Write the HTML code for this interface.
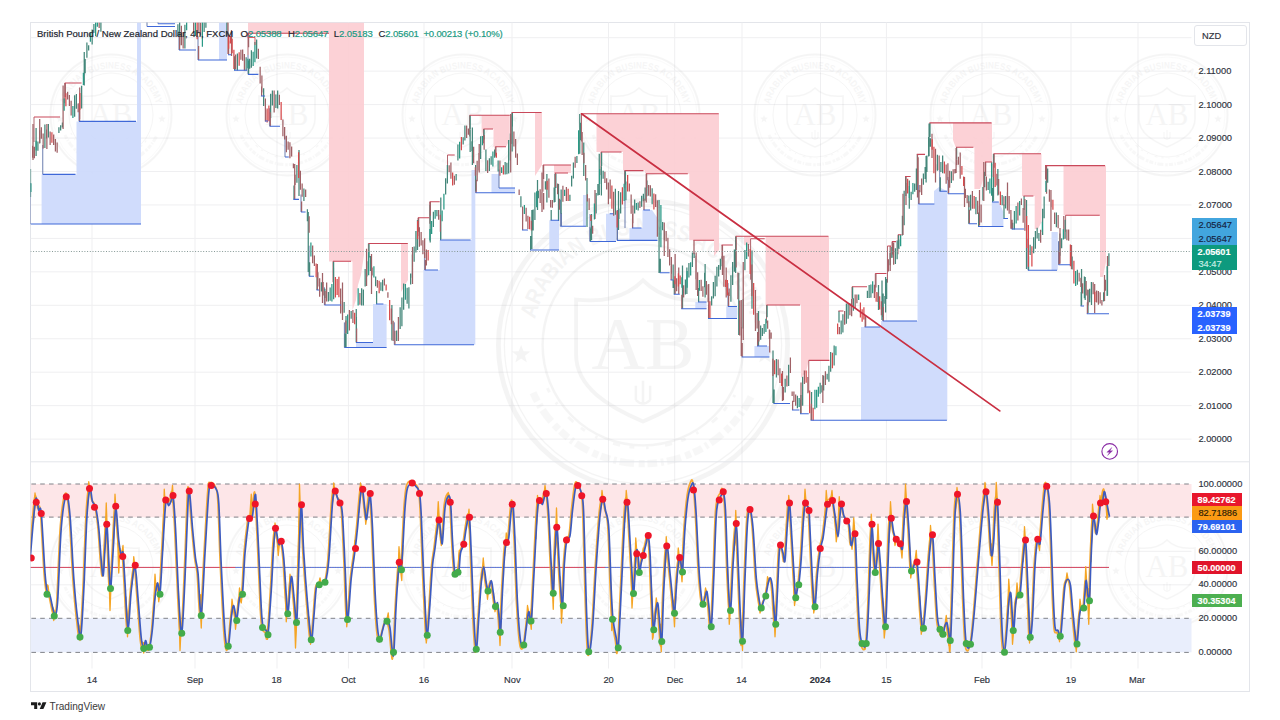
<!DOCTYPE html>
<html><head><meta charset="utf-8"><title>GBPNZD 4h chart</title>
<style>
html,body{margin:0;padding:0;background:#fff;}
body{width:1280px;height:720px;position:relative;overflow:hidden;font-family:"Liberation Sans",sans-serif;}
#frame{position:absolute;left:30px;top:22px;width:1220px;height:670px;border:1px solid #e3e5ea;box-sizing:border-box;}
#sep{position:absolute;left:30px;top:461.4px;width:1220px;height:1px;background:#e3e5ea;}
svg{position:absolute;left:0;top:0;}
.ax{position:absolute;font-size:9.3px;line-height:12px;height:12px;color:#2e323c;white-space:nowrap;letter-spacing:0;-webkit-text-stroke:0.15px currentColor;}
.tc{width:60px;text-align:center;}
.bw{color:#fff;font-weight:bold;font-size:9.1px;}
.bx{position:absolute;}
#nzd{position:absolute;left:1194.4px;top:25.1px;width:52.6px;height:21.2px;border:1px solid #e3e5ea;border-radius:3px;box-sizing:border-box;background:#fff;}
#hdr{position:absolute;left:37px;top:28.0px;font-size:9.56px;line-height:12px;color:#23262f;white-space:nowrap;-webkit-text-stroke:0.2px #23262f;}
#hdr b{font-weight:normal;color:#1a9a82;-webkit-text-stroke:0.2px #1a9a82;letter-spacing:-0.15px;}
#hdr span{display:inline-block;}
#tv{position:absolute;left:49.6px;top:700.5px;font-size:10.1px;line-height:12px;color:#3a3a3a;}
</style></head><body>
<div id="frame"></div>
<svg width="1280" height="720" viewBox="0 0 1280 720">
<defs><clipPath id="cp"><rect x="30.5" y="22.5" width="1219" height="669"/></clipPath></defs>
<g clip-path="url(#cp)">
<path d="M92 22.2V668.5M195 22.2V668.5M277 22.2V668.5M348.4 22.2V668.5M424 22.2V668.5M512 22.2V668.5M608.5 22.2V668.5M674.7 22.2V668.5M742 22.2V668.5M820.5 22.2V668.5M886.4 22.2V668.5M982 22.2V668.5M1071 22.2V668.5M1138 22.2V668.5M30.4 37.7H1191.5M30.4 71.15H1191.5M30.4 104.6H1191.5M30.4 138.05H1191.5M30.4 171.5H1191.5M30.4 204.95H1191.5M30.4 238.4H1191.5M30.4 271.85H1191.5M30.4 305.3H1191.5M30.4 338.75H1191.5M30.4 372.2H1191.5M30.4 405.65H1191.5M30.4 439.1H1191.5M30.4 551.3H1191.5M30.4 584.8H1191.5" stroke="#efeff1" stroke-width="1" fill="none"/>
<g transform="translate(111 115) scale(1)" opacity="0.085" fill="none" stroke="#9a9a9a"><circle r="60.5" stroke-width="2"/><circle r="42" stroke-width="1"/><circle r="58" stroke-width="0.5"/><path d="M0 -27 C -8 -19 -18 -18 -28 -19 L -28 4 C -28 18 -14 26 0 32 C 14 26 28 18 28 4 L 28 -19 C 18 -18 8 -19 0 -27Z" stroke-width="1.6"/><text x="0" y="10" font-family="Liberation Serif, serif" font-size="31" text-anchor="middle" fill="#9a9a9a" stroke="none">AB</text><path id="wa111_115" d="M -46.5 0 A 46.5 46.5 0 0 1 46.5 0" stroke="none"/><text font-family="Liberation Sans, sans-serif" font-weight="bold" font-size="9.6" fill="#9a9a9a" stroke="none"><textPath href="#wa111_115" startOffset="50%" text-anchor="middle" textLength="124" lengthAdjust="spacingAndGlyphs">ARABIAN BUSINESS ACADEMY</textPath></text><polygon points="-51,0 -50,2.62 -47.2,2.76 -49.38,4.53 -48.65,7.24 -51,5.7 -53.35,7.24 -52.62,4.53 -54.8,2.76 -52,2.62" fill="#9a9a9a" stroke="none"/><polygon points="51,0 52,2.62 54.8,2.76 52.62,4.53 53.35,7.24 51,5.7 48.65,7.24 49.38,4.53 47.2,2.76 50,2.62" fill="#9a9a9a" stroke="none"/><path d="M -46 20 A 50.5 50.5 0 0 0 46 20" stroke-width="3" stroke-dasharray="4 1.6 1.2 1.4 6 2 2.5 1.2" opacity="0.7"/><path d="M -40 18 A 44.5 44.5 0 0 0 40 18" stroke-width="1.2" stroke-dasharray="2 5 1 7 3 4" opacity="0.8"/><path d="M-3 17 l0 6 M0 15 l0 9 M3 17 l0 6 M-3 23 q3 3 6 0" stroke-width="1"/></g>
<g transform="translate(287 115) scale(1)" opacity="0.085" fill="none" stroke="#9a9a9a"><circle r="60.5" stroke-width="2"/><circle r="42" stroke-width="1"/><circle r="58" stroke-width="0.5"/><path d="M0 -27 C -8 -19 -18 -18 -28 -19 L -28 4 C -28 18 -14 26 0 32 C 14 26 28 18 28 4 L 28 -19 C 18 -18 8 -19 0 -27Z" stroke-width="1.6"/><text x="0" y="10" font-family="Liberation Serif, serif" font-size="31" text-anchor="middle" fill="#9a9a9a" stroke="none">AB</text><path id="wa287_115" d="M -46.5 0 A 46.5 46.5 0 0 1 46.5 0" stroke="none"/><text font-family="Liberation Sans, sans-serif" font-weight="bold" font-size="9.6" fill="#9a9a9a" stroke="none"><textPath href="#wa287_115" startOffset="50%" text-anchor="middle" textLength="124" lengthAdjust="spacingAndGlyphs">ARABIAN BUSINESS ACADEMY</textPath></text><polygon points="-51,0 -50,2.62 -47.2,2.76 -49.38,4.53 -48.65,7.24 -51,5.7 -53.35,7.24 -52.62,4.53 -54.8,2.76 -52,2.62" fill="#9a9a9a" stroke="none"/><polygon points="51,0 52,2.62 54.8,2.76 52.62,4.53 53.35,7.24 51,5.7 48.65,7.24 49.38,4.53 47.2,2.76 50,2.62" fill="#9a9a9a" stroke="none"/><path d="M -46 20 A 50.5 50.5 0 0 0 46 20" stroke-width="3" stroke-dasharray="4 1.6 1.2 1.4 6 2 2.5 1.2" opacity="0.7"/><path d="M -40 18 A 44.5 44.5 0 0 0 40 18" stroke-width="1.2" stroke-dasharray="2 5 1 7 3 4" opacity="0.8"/><path d="M-3 17 l0 6 M0 15 l0 9 M3 17 l0 6 M-3 23 q3 3 6 0" stroke-width="1"/></g>
<g transform="translate(463 115) scale(1)" opacity="0.085" fill="none" stroke="#9a9a9a"><circle r="60.5" stroke-width="2"/><circle r="42" stroke-width="1"/><circle r="58" stroke-width="0.5"/><path d="M0 -27 C -8 -19 -18 -18 -28 -19 L -28 4 C -28 18 -14 26 0 32 C 14 26 28 18 28 4 L 28 -19 C 18 -18 8 -19 0 -27Z" stroke-width="1.6"/><text x="0" y="10" font-family="Liberation Serif, serif" font-size="31" text-anchor="middle" fill="#9a9a9a" stroke="none">AB</text><path id="wa463_115" d="M -46.5 0 A 46.5 46.5 0 0 1 46.5 0" stroke="none"/><text font-family="Liberation Sans, sans-serif" font-weight="bold" font-size="9.6" fill="#9a9a9a" stroke="none"><textPath href="#wa463_115" startOffset="50%" text-anchor="middle" textLength="124" lengthAdjust="spacingAndGlyphs">ARABIAN BUSINESS ACADEMY</textPath></text><polygon points="-51,0 -50,2.62 -47.2,2.76 -49.38,4.53 -48.65,7.24 -51,5.7 -53.35,7.24 -52.62,4.53 -54.8,2.76 -52,2.62" fill="#9a9a9a" stroke="none"/><polygon points="51,0 52,2.62 54.8,2.76 52.62,4.53 53.35,7.24 51,5.7 48.65,7.24 49.38,4.53 47.2,2.76 50,2.62" fill="#9a9a9a" stroke="none"/><path d="M -46 20 A 50.5 50.5 0 0 0 46 20" stroke-width="3" stroke-dasharray="4 1.6 1.2 1.4 6 2 2.5 1.2" opacity="0.7"/><path d="M -40 18 A 44.5 44.5 0 0 0 40 18" stroke-width="1.2" stroke-dasharray="2 5 1 7 3 4" opacity="0.8"/><path d="M-3 17 l0 6 M0 15 l0 9 M3 17 l0 6 M-3 23 q3 3 6 0" stroke-width="1"/></g>
<g transform="translate(639 115) scale(1)" opacity="0.085" fill="none" stroke="#9a9a9a"><circle r="60.5" stroke-width="2"/><circle r="42" stroke-width="1"/><circle r="58" stroke-width="0.5"/><path d="M0 -27 C -8 -19 -18 -18 -28 -19 L -28 4 C -28 18 -14 26 0 32 C 14 26 28 18 28 4 L 28 -19 C 18 -18 8 -19 0 -27Z" stroke-width="1.6"/><text x="0" y="10" font-family="Liberation Serif, serif" font-size="31" text-anchor="middle" fill="#9a9a9a" stroke="none">AB</text><path id="wa639_115" d="M -46.5 0 A 46.5 46.5 0 0 1 46.5 0" stroke="none"/><text font-family="Liberation Sans, sans-serif" font-weight="bold" font-size="9.6" fill="#9a9a9a" stroke="none"><textPath href="#wa639_115" startOffset="50%" text-anchor="middle" textLength="124" lengthAdjust="spacingAndGlyphs">ARABIAN BUSINESS ACADEMY</textPath></text><polygon points="-51,0 -50,2.62 -47.2,2.76 -49.38,4.53 -48.65,7.24 -51,5.7 -53.35,7.24 -52.62,4.53 -54.8,2.76 -52,2.62" fill="#9a9a9a" stroke="none"/><polygon points="51,0 52,2.62 54.8,2.76 52.62,4.53 53.35,7.24 51,5.7 48.65,7.24 49.38,4.53 47.2,2.76 50,2.62" fill="#9a9a9a" stroke="none"/><path d="M -46 20 A 50.5 50.5 0 0 0 46 20" stroke-width="3" stroke-dasharray="4 1.6 1.2 1.4 6 2 2.5 1.2" opacity="0.7"/><path d="M -40 18 A 44.5 44.5 0 0 0 40 18" stroke-width="1.2" stroke-dasharray="2 5 1 7 3 4" opacity="0.8"/><path d="M-3 17 l0 6 M0 15 l0 9 M3 17 l0 6 M-3 23 q3 3 6 0" stroke-width="1"/></g>
<g transform="translate(815 115) scale(1)" opacity="0.085" fill="none" stroke="#9a9a9a"><circle r="60.5" stroke-width="2"/><circle r="42" stroke-width="1"/><circle r="58" stroke-width="0.5"/><path d="M0 -27 C -8 -19 -18 -18 -28 -19 L -28 4 C -28 18 -14 26 0 32 C 14 26 28 18 28 4 L 28 -19 C 18 -18 8 -19 0 -27Z" stroke-width="1.6"/><text x="0" y="10" font-family="Liberation Serif, serif" font-size="31" text-anchor="middle" fill="#9a9a9a" stroke="none">AB</text><path id="wa815_115" d="M -46.5 0 A 46.5 46.5 0 0 1 46.5 0" stroke="none"/><text font-family="Liberation Sans, sans-serif" font-weight="bold" font-size="9.6" fill="#9a9a9a" stroke="none"><textPath href="#wa815_115" startOffset="50%" text-anchor="middle" textLength="124" lengthAdjust="spacingAndGlyphs">ARABIAN BUSINESS ACADEMY</textPath></text><polygon points="-51,0 -50,2.62 -47.2,2.76 -49.38,4.53 -48.65,7.24 -51,5.7 -53.35,7.24 -52.62,4.53 -54.8,2.76 -52,2.62" fill="#9a9a9a" stroke="none"/><polygon points="51,0 52,2.62 54.8,2.76 52.62,4.53 53.35,7.24 51,5.7 48.65,7.24 49.38,4.53 47.2,2.76 50,2.62" fill="#9a9a9a" stroke="none"/><path d="M -46 20 A 50.5 50.5 0 0 0 46 20" stroke-width="3" stroke-dasharray="4 1.6 1.2 1.4 6 2 2.5 1.2" opacity="0.7"/><path d="M -40 18 A 44.5 44.5 0 0 0 40 18" stroke-width="1.2" stroke-dasharray="2 5 1 7 3 4" opacity="0.8"/><path d="M-3 17 l0 6 M0 15 l0 9 M3 17 l0 6 M-3 23 q3 3 6 0" stroke-width="1"/></g>
<g transform="translate(991 115) scale(1)" opacity="0.085" fill="none" stroke="#9a9a9a"><circle r="60.5" stroke-width="2"/><circle r="42" stroke-width="1"/><circle r="58" stroke-width="0.5"/><path d="M0 -27 C -8 -19 -18 -18 -28 -19 L -28 4 C -28 18 -14 26 0 32 C 14 26 28 18 28 4 L 28 -19 C 18 -18 8 -19 0 -27Z" stroke-width="1.6"/><text x="0" y="10" font-family="Liberation Serif, serif" font-size="31" text-anchor="middle" fill="#9a9a9a" stroke="none">AB</text><path id="wa991_115" d="M -46.5 0 A 46.5 46.5 0 0 1 46.5 0" stroke="none"/><text font-family="Liberation Sans, sans-serif" font-weight="bold" font-size="9.6" fill="#9a9a9a" stroke="none"><textPath href="#wa991_115" startOffset="50%" text-anchor="middle" textLength="124" lengthAdjust="spacingAndGlyphs">ARABIAN BUSINESS ACADEMY</textPath></text><polygon points="-51,0 -50,2.62 -47.2,2.76 -49.38,4.53 -48.65,7.24 -51,5.7 -53.35,7.24 -52.62,4.53 -54.8,2.76 -52,2.62" fill="#9a9a9a" stroke="none"/><polygon points="51,0 52,2.62 54.8,2.76 52.62,4.53 53.35,7.24 51,5.7 48.65,7.24 49.38,4.53 47.2,2.76 50,2.62" fill="#9a9a9a" stroke="none"/><path d="M -46 20 A 50.5 50.5 0 0 0 46 20" stroke-width="3" stroke-dasharray="4 1.6 1.2 1.4 6 2 2.5 1.2" opacity="0.7"/><path d="M -40 18 A 44.5 44.5 0 0 0 40 18" stroke-width="1.2" stroke-dasharray="2 5 1 7 3 4" opacity="0.8"/><path d="M-3 17 l0 6 M0 15 l0 9 M3 17 l0 6 M-3 23 q3 3 6 0" stroke-width="1"/></g>
<g transform="translate(1167 115) scale(1)" opacity="0.085" fill="none" stroke="#9a9a9a"><circle r="60.5" stroke-width="2"/><circle r="42" stroke-width="1"/><circle r="58" stroke-width="0.5"/><path d="M0 -27 C -8 -19 -18 -18 -28 -19 L -28 4 C -28 18 -14 26 0 32 C 14 26 28 18 28 4 L 28 -19 C 18 -18 8 -19 0 -27Z" stroke-width="1.6"/><text x="0" y="10" font-family="Liberation Serif, serif" font-size="31" text-anchor="middle" fill="#9a9a9a" stroke="none">AB</text><path id="wa1167_115" d="M -46.5 0 A 46.5 46.5 0 0 1 46.5 0" stroke="none"/><text font-family="Liberation Sans, sans-serif" font-weight="bold" font-size="9.6" fill="#9a9a9a" stroke="none"><textPath href="#wa1167_115" startOffset="50%" text-anchor="middle" textLength="124" lengthAdjust="spacingAndGlyphs">ARABIAN BUSINESS ACADEMY</textPath></text><polygon points="-51,0 -50,2.62 -47.2,2.76 -49.38,4.53 -48.65,7.24 -51,5.7 -53.35,7.24 -52.62,4.53 -54.8,2.76 -52,2.62" fill="#9a9a9a" stroke="none"/><polygon points="51,0 52,2.62 54.8,2.76 52.62,4.53 53.35,7.24 51,5.7 48.65,7.24 49.38,4.53 47.2,2.76 50,2.62" fill="#9a9a9a" stroke="none"/><path d="M -46 20 A 50.5 50.5 0 0 0 46 20" stroke-width="3" stroke-dasharray="4 1.6 1.2 1.4 6 2 2.5 1.2" opacity="0.7"/><path d="M -40 18 A 44.5 44.5 0 0 0 40 18" stroke-width="1.2" stroke-dasharray="2 5 1 7 3 4" opacity="0.8"/><path d="M-3 17 l0 6 M0 15 l0 9 M3 17 l0 6 M-3 23 q3 3 6 0" stroke-width="1"/></g>
<g transform="translate(111 567) scale(1)" opacity="0.085" fill="none" stroke="#9a9a9a"><circle r="60.5" stroke-width="2"/><circle r="42" stroke-width="1"/><circle r="58" stroke-width="0.5"/><path d="M0 -27 C -8 -19 -18 -18 -28 -19 L -28 4 C -28 18 -14 26 0 32 C 14 26 28 18 28 4 L 28 -19 C 18 -18 8 -19 0 -27Z" stroke-width="1.6"/><text x="0" y="10" font-family="Liberation Serif, serif" font-size="31" text-anchor="middle" fill="#9a9a9a" stroke="none">AB</text><path id="wa111_567" d="M -46.5 0 A 46.5 46.5 0 0 1 46.5 0" stroke="none"/><text font-family="Liberation Sans, sans-serif" font-weight="bold" font-size="9.6" fill="#9a9a9a" stroke="none"><textPath href="#wa111_567" startOffset="50%" text-anchor="middle" textLength="124" lengthAdjust="spacingAndGlyphs">ARABIAN BUSINESS ACADEMY</textPath></text><polygon points="-51,0 -50,2.62 -47.2,2.76 -49.38,4.53 -48.65,7.24 -51,5.7 -53.35,7.24 -52.62,4.53 -54.8,2.76 -52,2.62" fill="#9a9a9a" stroke="none"/><polygon points="51,0 52,2.62 54.8,2.76 52.62,4.53 53.35,7.24 51,5.7 48.65,7.24 49.38,4.53 47.2,2.76 50,2.62" fill="#9a9a9a" stroke="none"/><path d="M -46 20 A 50.5 50.5 0 0 0 46 20" stroke-width="3" stroke-dasharray="4 1.6 1.2 1.4 6 2 2.5 1.2" opacity="0.7"/><path d="M -40 18 A 44.5 44.5 0 0 0 40 18" stroke-width="1.2" stroke-dasharray="2 5 1 7 3 4" opacity="0.8"/><path d="M-3 17 l0 6 M0 15 l0 9 M3 17 l0 6 M-3 23 q3 3 6 0" stroke-width="1"/></g>
<g transform="translate(287 567) scale(1)" opacity="0.085" fill="none" stroke="#9a9a9a"><circle r="60.5" stroke-width="2"/><circle r="42" stroke-width="1"/><circle r="58" stroke-width="0.5"/><path d="M0 -27 C -8 -19 -18 -18 -28 -19 L -28 4 C -28 18 -14 26 0 32 C 14 26 28 18 28 4 L 28 -19 C 18 -18 8 -19 0 -27Z" stroke-width="1.6"/><text x="0" y="10" font-family="Liberation Serif, serif" font-size="31" text-anchor="middle" fill="#9a9a9a" stroke="none">AB</text><path id="wa287_567" d="M -46.5 0 A 46.5 46.5 0 0 1 46.5 0" stroke="none"/><text font-family="Liberation Sans, sans-serif" font-weight="bold" font-size="9.6" fill="#9a9a9a" stroke="none"><textPath href="#wa287_567" startOffset="50%" text-anchor="middle" textLength="124" lengthAdjust="spacingAndGlyphs">ARABIAN BUSINESS ACADEMY</textPath></text><polygon points="-51,0 -50,2.62 -47.2,2.76 -49.38,4.53 -48.65,7.24 -51,5.7 -53.35,7.24 -52.62,4.53 -54.8,2.76 -52,2.62" fill="#9a9a9a" stroke="none"/><polygon points="51,0 52,2.62 54.8,2.76 52.62,4.53 53.35,7.24 51,5.7 48.65,7.24 49.38,4.53 47.2,2.76 50,2.62" fill="#9a9a9a" stroke="none"/><path d="M -46 20 A 50.5 50.5 0 0 0 46 20" stroke-width="3" stroke-dasharray="4 1.6 1.2 1.4 6 2 2.5 1.2" opacity="0.7"/><path d="M -40 18 A 44.5 44.5 0 0 0 40 18" stroke-width="1.2" stroke-dasharray="2 5 1 7 3 4" opacity="0.8"/><path d="M-3 17 l0 6 M0 15 l0 9 M3 17 l0 6 M-3 23 q3 3 6 0" stroke-width="1"/></g>
<g transform="translate(463 567) scale(1)" opacity="0.085" fill="none" stroke="#9a9a9a"><circle r="60.5" stroke-width="2"/><circle r="42" stroke-width="1"/><circle r="58" stroke-width="0.5"/><path d="M0 -27 C -8 -19 -18 -18 -28 -19 L -28 4 C -28 18 -14 26 0 32 C 14 26 28 18 28 4 L 28 -19 C 18 -18 8 -19 0 -27Z" stroke-width="1.6"/><text x="0" y="10" font-family="Liberation Serif, serif" font-size="31" text-anchor="middle" fill="#9a9a9a" stroke="none">AB</text><path id="wa463_567" d="M -46.5 0 A 46.5 46.5 0 0 1 46.5 0" stroke="none"/><text font-family="Liberation Sans, sans-serif" font-weight="bold" font-size="9.6" fill="#9a9a9a" stroke="none"><textPath href="#wa463_567" startOffset="50%" text-anchor="middle" textLength="124" lengthAdjust="spacingAndGlyphs">ARABIAN BUSINESS ACADEMY</textPath></text><polygon points="-51,0 -50,2.62 -47.2,2.76 -49.38,4.53 -48.65,7.24 -51,5.7 -53.35,7.24 -52.62,4.53 -54.8,2.76 -52,2.62" fill="#9a9a9a" stroke="none"/><polygon points="51,0 52,2.62 54.8,2.76 52.62,4.53 53.35,7.24 51,5.7 48.65,7.24 49.38,4.53 47.2,2.76 50,2.62" fill="#9a9a9a" stroke="none"/><path d="M -46 20 A 50.5 50.5 0 0 0 46 20" stroke-width="3" stroke-dasharray="4 1.6 1.2 1.4 6 2 2.5 1.2" opacity="0.7"/><path d="M -40 18 A 44.5 44.5 0 0 0 40 18" stroke-width="1.2" stroke-dasharray="2 5 1 7 3 4" opacity="0.8"/><path d="M-3 17 l0 6 M0 15 l0 9 M3 17 l0 6 M-3 23 q3 3 6 0" stroke-width="1"/></g>
<g transform="translate(639 567) scale(1)" opacity="0.085" fill="none" stroke="#9a9a9a"><circle r="60.5" stroke-width="2"/><circle r="42" stroke-width="1"/><circle r="58" stroke-width="0.5"/><path d="M0 -27 C -8 -19 -18 -18 -28 -19 L -28 4 C -28 18 -14 26 0 32 C 14 26 28 18 28 4 L 28 -19 C 18 -18 8 -19 0 -27Z" stroke-width="1.6"/><text x="0" y="10" font-family="Liberation Serif, serif" font-size="31" text-anchor="middle" fill="#9a9a9a" stroke="none">AB</text><path id="wa639_567" d="M -46.5 0 A 46.5 46.5 0 0 1 46.5 0" stroke="none"/><text font-family="Liberation Sans, sans-serif" font-weight="bold" font-size="9.6" fill="#9a9a9a" stroke="none"><textPath href="#wa639_567" startOffset="50%" text-anchor="middle" textLength="124" lengthAdjust="spacingAndGlyphs">ARABIAN BUSINESS ACADEMY</textPath></text><polygon points="-51,0 -50,2.62 -47.2,2.76 -49.38,4.53 -48.65,7.24 -51,5.7 -53.35,7.24 -52.62,4.53 -54.8,2.76 -52,2.62" fill="#9a9a9a" stroke="none"/><polygon points="51,0 52,2.62 54.8,2.76 52.62,4.53 53.35,7.24 51,5.7 48.65,7.24 49.38,4.53 47.2,2.76 50,2.62" fill="#9a9a9a" stroke="none"/><path d="M -46 20 A 50.5 50.5 0 0 0 46 20" stroke-width="3" stroke-dasharray="4 1.6 1.2 1.4 6 2 2.5 1.2" opacity="0.7"/><path d="M -40 18 A 44.5 44.5 0 0 0 40 18" stroke-width="1.2" stroke-dasharray="2 5 1 7 3 4" opacity="0.8"/><path d="M-3 17 l0 6 M0 15 l0 9 M3 17 l0 6 M-3 23 q3 3 6 0" stroke-width="1"/></g>
<g transform="translate(815 567) scale(1)" opacity="0.085" fill="none" stroke="#9a9a9a"><circle r="60.5" stroke-width="2"/><circle r="42" stroke-width="1"/><circle r="58" stroke-width="0.5"/><path d="M0 -27 C -8 -19 -18 -18 -28 -19 L -28 4 C -28 18 -14 26 0 32 C 14 26 28 18 28 4 L 28 -19 C 18 -18 8 -19 0 -27Z" stroke-width="1.6"/><text x="0" y="10" font-family="Liberation Serif, serif" font-size="31" text-anchor="middle" fill="#9a9a9a" stroke="none">AB</text><path id="wa815_567" d="M -46.5 0 A 46.5 46.5 0 0 1 46.5 0" stroke="none"/><text font-family="Liberation Sans, sans-serif" font-weight="bold" font-size="9.6" fill="#9a9a9a" stroke="none"><textPath href="#wa815_567" startOffset="50%" text-anchor="middle" textLength="124" lengthAdjust="spacingAndGlyphs">ARABIAN BUSINESS ACADEMY</textPath></text><polygon points="-51,0 -50,2.62 -47.2,2.76 -49.38,4.53 -48.65,7.24 -51,5.7 -53.35,7.24 -52.62,4.53 -54.8,2.76 -52,2.62" fill="#9a9a9a" stroke="none"/><polygon points="51,0 52,2.62 54.8,2.76 52.62,4.53 53.35,7.24 51,5.7 48.65,7.24 49.38,4.53 47.2,2.76 50,2.62" fill="#9a9a9a" stroke="none"/><path d="M -46 20 A 50.5 50.5 0 0 0 46 20" stroke-width="3" stroke-dasharray="4 1.6 1.2 1.4 6 2 2.5 1.2" opacity="0.7"/><path d="M -40 18 A 44.5 44.5 0 0 0 40 18" stroke-width="1.2" stroke-dasharray="2 5 1 7 3 4" opacity="0.8"/><path d="M-3 17 l0 6 M0 15 l0 9 M3 17 l0 6 M-3 23 q3 3 6 0" stroke-width="1"/></g>
<g transform="translate(991 567) scale(1)" opacity="0.085" fill="none" stroke="#9a9a9a"><circle r="60.5" stroke-width="2"/><circle r="42" stroke-width="1"/><circle r="58" stroke-width="0.5"/><path d="M0 -27 C -8 -19 -18 -18 -28 -19 L -28 4 C -28 18 -14 26 0 32 C 14 26 28 18 28 4 L 28 -19 C 18 -18 8 -19 0 -27Z" stroke-width="1.6"/><text x="0" y="10" font-family="Liberation Serif, serif" font-size="31" text-anchor="middle" fill="#9a9a9a" stroke="none">AB</text><path id="wa991_567" d="M -46.5 0 A 46.5 46.5 0 0 1 46.5 0" stroke="none"/><text font-family="Liberation Sans, sans-serif" font-weight="bold" font-size="9.6" fill="#9a9a9a" stroke="none"><textPath href="#wa991_567" startOffset="50%" text-anchor="middle" textLength="124" lengthAdjust="spacingAndGlyphs">ARABIAN BUSINESS ACADEMY</textPath></text><polygon points="-51,0 -50,2.62 -47.2,2.76 -49.38,4.53 -48.65,7.24 -51,5.7 -53.35,7.24 -52.62,4.53 -54.8,2.76 -52,2.62" fill="#9a9a9a" stroke="none"/><polygon points="51,0 52,2.62 54.8,2.76 52.62,4.53 53.35,7.24 51,5.7 48.65,7.24 49.38,4.53 47.2,2.76 50,2.62" fill="#9a9a9a" stroke="none"/><path d="M -46 20 A 50.5 50.5 0 0 0 46 20" stroke-width="3" stroke-dasharray="4 1.6 1.2 1.4 6 2 2.5 1.2" opacity="0.7"/><path d="M -40 18 A 44.5 44.5 0 0 0 40 18" stroke-width="1.2" stroke-dasharray="2 5 1 7 3 4" opacity="0.8"/><path d="M-3 17 l0 6 M0 15 l0 9 M3 17 l0 6 M-3 23 q3 3 6 0" stroke-width="1"/></g>
<g transform="translate(1167 567) scale(1)" opacity="0.085" fill="none" stroke="#9a9a9a"><circle r="60.5" stroke-width="2"/><circle r="42" stroke-width="1"/><circle r="58" stroke-width="0.5"/><path d="M0 -27 C -8 -19 -18 -18 -28 -19 L -28 4 C -28 18 -14 26 0 32 C 14 26 28 18 28 4 L 28 -19 C 18 -18 8 -19 0 -27Z" stroke-width="1.6"/><text x="0" y="10" font-family="Liberation Serif, serif" font-size="31" text-anchor="middle" fill="#9a9a9a" stroke="none">AB</text><path id="wa1167_567" d="M -46.5 0 A 46.5 46.5 0 0 1 46.5 0" stroke="none"/><text font-family="Liberation Sans, sans-serif" font-weight="bold" font-size="9.6" fill="#9a9a9a" stroke="none"><textPath href="#wa1167_567" startOffset="50%" text-anchor="middle" textLength="124" lengthAdjust="spacingAndGlyphs">ARABIAN BUSINESS ACADEMY</textPath></text><polygon points="-51,0 -50,2.62 -47.2,2.76 -49.38,4.53 -48.65,7.24 -51,5.7 -53.35,7.24 -52.62,4.53 -54.8,2.76 -52,2.62" fill="#9a9a9a" stroke="none"/><polygon points="51,0 52,2.62 54.8,2.76 52.62,4.53 53.35,7.24 51,5.7 48.65,7.24 49.38,4.53 47.2,2.76 50,2.62" fill="#9a9a9a" stroke="none"/><path d="M -46 20 A 50.5 50.5 0 0 0 46 20" stroke-width="3" stroke-dasharray="4 1.6 1.2 1.4 6 2 2.5 1.2" opacity="0.7"/><path d="M -40 18 A 44.5 44.5 0 0 0 40 18" stroke-width="1.2" stroke-dasharray="2 5 1 7 3 4" opacity="0.8"/><path d="M-3 17 l0 6 M0 15 l0 9 M3 17 l0 6 M-3 23 q3 3 6 0" stroke-width="1"/></g>
<g transform="translate(643 345) scale(2.39)" opacity="0.1" fill="none" stroke="#9a9a9a"><circle r="60.5" stroke-width="2"/><circle r="42" stroke-width="1"/><circle r="58" stroke-width="0.5"/><path d="M0 -27 C -8 -19 -18 -18 -28 -19 L -28 4 C -28 18 -14 26 0 32 C 14 26 28 18 28 4 L 28 -19 C 18 -18 8 -19 0 -27Z" stroke-width="1.6"/><text x="0" y="10" font-family="Liberation Serif, serif" font-size="31" text-anchor="middle" fill="#9a9a9a" stroke="none">AB</text><path id="wa643_345" d="M -46.5 0 A 46.5 46.5 0 0 1 46.5 0" stroke="none"/><text font-family="Liberation Sans, sans-serif" font-weight="bold" font-size="9.6" fill="#9a9a9a" stroke="none"><textPath href="#wa643_345" startOffset="50%" text-anchor="middle" textLength="124" lengthAdjust="spacingAndGlyphs">ARABIAN BUSINESS ACADEMY</textPath></text><polygon points="-51,0 -50,2.62 -47.2,2.76 -49.38,4.53 -48.65,7.24 -51,5.7 -53.35,7.24 -52.62,4.53 -54.8,2.76 -52,2.62" fill="#9a9a9a" stroke="none"/><polygon points="51,0 52,2.62 54.8,2.76 52.62,4.53 53.35,7.24 51,5.7 48.65,7.24 49.38,4.53 47.2,2.76 50,2.62" fill="#9a9a9a" stroke="none"/><path d="M -46 20 A 50.5 50.5 0 0 0 46 20" stroke-width="3" stroke-dasharray="4 1.6 1.2 1.4 6 2 2.5 1.2" opacity="0.7"/><path d="M -40 18 A 44.5 44.5 0 0 0 40 18" stroke-width="1.2" stroke-dasharray="2 5 1 7 3 4" opacity="0.8"/><path d="M-3 17 l0 6 M0 15 l0 9 M3 17 l0 6 M-3 23 q3 3 6 0" stroke-width="1"/></g>
<rect x="30.4" y="484" width="1161.1" height="33.3" fill="#fde6e8"/>
<rect x="30.4" y="618.3" width="1161.1" height="34" fill="#e9eefc"/>
<polygon points="41.6,224 41.6,174.4 76.5,174.4 76.5,121.4 137,121.4 137,22.5 141,22.5 141,224" fill="#cddafc" fill-opacity="0.94"/>
<polygon points="219,22.5 227,22.5 227,60 219,60" fill="#cddafc" fill-opacity="0.94"/>
<polygon points="356,347.5 356,342.5 373,342.5 373,304 386.6,304 386.6,347.5" fill="#cddafc" fill-opacity="0.94"/>
<polygon points="423.4,344.75 423.4,270 439.7,270 439.7,240 471.5,240 471.5,170 475.3,170 475.3,344.75" fill="#cddafc" fill-opacity="0.94"/>
<polygon points="491.5,192.75 491.5,174 499,174 499,188 515,188 515,192.75" fill="#cddafc" fill-opacity="0.94"/>
<polygon points="549.3,250 549.3,220.3 559,220.3 559,250" fill="#cddafc" fill-opacity="0.94"/>
<polygon points="583,195 586.25,195 586.25,226.3 583,226.3" fill="#cddafc" fill-opacity="0.94"/>
<polygon points="606,241.5 606,213.75 616,213.75 616,241.5" fill="#cddafc" fill-opacity="0.94"/>
<polygon points="629.4,240.4 629.4,228 642.5,228 642.5,210 652,210 657.5,218 657.5,240.4" fill="#cddafc" fill-opacity="0.94"/>
<polygon points="695.3,308.75 695.3,302 706.5,302 706.5,308.75" fill="#cddafc" fill-opacity="0.94"/>
<polygon points="726.25,318.5 726.25,306.5 737,306.5 737,318.5" fill="#cddafc" fill-opacity="0.94"/>
<polygon points="754.4,357 754.4,346 769.4,346 769.4,357" fill="#cddafc" fill-opacity="0.94"/>
<polygon points="861,420.2 861,327 881,327 881,321 917.5,321 917.5,204 934,204 934,191 939,187 947.3,191.3 947.3,420.2" fill="#cddafc" fill-opacity="0.94"/>
<polygon points="991.8,226.5 991.8,202 999,202 1003.4,212 1003.4,226.5" fill="#cddafc" fill-opacity="0.94"/>
<polygon points="1051.5,270.3 1051.5,232 1057.75,232 1057.75,270.3" fill="#cddafc" fill-opacity="0.94"/>
<polygon points="248,22.5 364,22.5 364,255 361,275 358,285 356,300 352.5,310 352.5,261.5 329,261.5 329,33.6 248,33.6" fill="#fccdd3" fill-opacity="0.92"/>
<polygon points="401,243.5 408,243.5 408,280 401,292" fill="#fccdd3" fill-opacity="0.92"/>
<polygon points="481.6,115.3 509.75,115.3 509.75,140 506,146.8 493.5,146.8 493.5,129 483.5,129 481.6,138" fill="#fccdd3" fill-opacity="0.92"/>
<polygon points="535,112.5 542,112.5 542,165 535,176" fill="#fccdd3" fill-opacity="0.92"/>
<polygon points="554,165 571,165 571,173 554,173" fill="#fccdd3" fill-opacity="0.92"/>
<polygon points="596.5,113.8 719,113.8 719,250 714,256 714,240.3 689.3,240.3 689.3,173.8 645,173.8 645,170.6 623,170.6 623,152 596.5,152" fill="#fccdd3" fill-opacity="0.92"/>
<polygon points="765.6,236.2 829,236.2 829,360.4 808.75,360.4 806,372 801,378 801,305 765.6,305" fill="#fccdd3" fill-opacity="0.92"/>
<polygon points="744,236.2 750.6,236.2 750.6,245 744,245" fill="#fccdd3" fill-opacity="0.92"/>
<polygon points="953,122.9 992,122.9 992,162 984.7,162 984.7,175 980,189 974.4,189 974.4,147.25 955.6,147.25 953,140" fill="#fccdd3" fill-opacity="0.92"/>
<polygon points="1022,153.8 1041.5,153.8 1041.5,222 1038,229 1034.7,229 1034.7,196 1022,196" fill="#fccdd3" fill-opacity="0.92"/>
<polygon points="1063.5,165.6 1106,165.6 1106,262 1103,277 1100,277 1100,215.2 1063.5,215.2" fill="#fccdd3" fill-opacity="0.92"/>
<path d="M30.4 224V183M42.75 174.4V145M79 121.4V103.25M147 26.5V-10M158 23.7V-10M179 50V31M198 60V35.75M248 74.4V55M269.7 126.3V108.26M285 157V136.48M301 212V194.5M309 276.3V245.69M324.4 305V287.3M344.4 347.5V322.42M394.3 344.75V322.34M424.7 270V253.12M475.6 192.75V178M499 188V169.5M560.4 226.3V199.65M590 241.5V227M617 240.4V210.5M728 306.5V283.1M882.8 321V299.56M918.4 204V184.32M939.7 191.3V170M948 193.75V177M1028 270.3V238.77M1058.5 264.7V241.2M625 170.6V228M617.5 210V240.4M590 214V241.5M561.5 213V226" stroke="#5b6fa6" stroke-width="1" fill="none" opacity="0.9"/>
<path d="M34 117V142M64.7 83V103.2M248 33.2V55M333 261.3V282.21M368.4 243.5V268.62M418 217.75V236.13M429.75 201.8V223.75M447.5 155V175.8M469.6 115.3V136.49M483.5 129V143.38M495.3 146.8V156.5M511.8 112.5V143.91M543 165V191.65M581.5 113.8V141.49M601 152V175.07M624.7 170.6V188.25M750.6 238.8V279.68M766.5 305V323.3M808.75 360.4V392.32M852 286.8V306.88M875.3 273.5V291.88M887.5 246V282.67M892 241.6V257.23M898 234.7V254.25M1065.6 215.2V231.77" stroke="#a8565f" stroke-width="1" fill="none" opacity="0.9"/>
<path d="M37.9 141.44V150.72M39.65 130.36V143.5M44.9 124.5V148.12M48.4 124.04V137.38M58.9 127.3V133.1M60.65 125.37V130.5M62.4 122.58V127.47M74.65 95.25V116.77M76.4 93.93V108.75M81.65 85.84V108.44M85.15 59.08V73.33M86.9 42.54V57.66M88.65 45.37V50.56M92.15 29.6V44.5M93.9 24.08V33.08M100.9 22.2V31.65M177.9 24.31V35.72M179.65 22.2V45.13M184.9 24.65V48.5M204.15 22.2V31.99M205.9 22.2V27.85M226.9 22.2V36.09M237.4 53.51V70.5M246.15 57.15V70.5M249.65 58.63V68.63M251.4 50.21V67.76M256.65 39.5V58.46M263.65 88.15V106.02M270.65 93.7V117.99M272.4 90.5V105.46M275.9 94.38V108.07M277.65 90.5V108.49M296.9 165.11V182.85M303.9 188.39V201.11M307.4 209.3V221.21M321.4 282.35V291.42M324.9 288.72V298.05M328.4 291.94V301.5M330.15 287.41V300.72M333.65 267.78V299.34M344.15 301.92V312.87M351.15 311.09V318.66M356.4 316.88V331.3M361.65 288.26V305.5M363.4 289.41V305.5M365.15 269.12V286.5M366.9 261.21V276.58M370.4 256.11V270.93M375.65 276.5V286.27M380.9 282.13V290.81M382.65 279.72V291.17M396.65 330.38V341.1M400.15 307.2V329.07M401.9 297.49V326.25M403.65 283.5V309.71M407.15 287.73V303.66M408.9 287.32V308.45M410.65 273.62V284.5M412.4 254.58V277.78M414.15 246.5V261.86M415.9 230.92V252.6M433.4 211.68V226.88M436.9 210.1V216.37M445.65 178.19V194.55M447.4 165.1V183.55M456.15 173.88V180.39M457.9 144.57V160.5M463.15 137.18V144.42M464.9 125.59V140.55M470.15 129.47V152M471.9 141.34V151.13M480.65 136.35V158.88M485.9 149.5V171.02M489.4 158.22V171.06M491.15 156.18V164.72M494.65 149.44V157.75M498.15 160.5V171.47M505.15 161.9V174.5M506.9 162.83V174.15M508.65 140.12V173.59M510.4 133.5V160.56M512.15 114.92V151.52M520.9 196.27V207.26M533.15 209.5V230.55M534.9 192.59V219.96M538.4 190.69V198.31M545.4 181.18V189.45M554.15 187.43V202.5M555.9 173.52V188.08M561.15 189.59V213.68M569.9 194.78V200.96M571.65 175.83V186.41M573.4 162.39V178.5M576.9 156.06V162.88M580.4 122.86V140.37M596.15 193.11V213.58M597.9 183.94V195.5M601.4 166.14V195.5M603.15 170.8V178.74M615.4 188.78V214.81M618.9 208.74V219.06M620.65 192.19V213.6M625.9 181.61V200.37M634.65 199.6V213.48M638.15 202.56V210.5M641.65 195.67V206.65M643.4 193.82V201.32M645.15 187.55V200.8M646.9 180.57V196.32M652.15 188.23V204.21M659.15 227.26V241.41M662.65 222V230.35M664.4 229.7V240.31M673.15 264.58V287.98M685.4 279.6V294.5M688.9 263.04V277.42M692.4 252.42V266.93M694.15 252.67V258.07M704.65 272.81V287.25M711.65 296.22V305.5M713.4 281.88V298.48M715.15 275.7V296.2M716.9 266.72V286.5M718.65 264.92V276.56M720.4 258.69V269.87M722.15 256.17V266.18M730.9 275.17V301.65M732.65 262.04V285.04M734.4 249.41V271.86M743.15 299.25V328.54M744.9 249.88V270.3M760.65 325.55V339.74M762.4 327.88V336.1M764.15 323.89V333.73M776.4 359.12V377.43M785.15 378.64V392.5M788.65 364.73V386.09M797.4 395.81V408.27M800.9 394.91V405.88M802.65 376.75V405.84M820.15 382.69V393.78M821.9 385.13V392.48M823.65 375.86V390.51M827.15 373.72V379.46M828.9 365.76V381.66M830.65 352.08V371.76M834.15 345.57V365.45M841.15 320.56V334.25M842.9 314.28V332.58M846.4 303.5V323.73M848.15 303.25V318.87M853.4 298.28V310.64M867.4 290.71V298M869.15 284.88V298M870.9 284.44V297.71M883.15 293.52V316.94M884.9 296.04V303.7M886.65 278.92V299.11M890.15 252.98V265.28M891.9 247.08V257.9M895.4 248.26V264.02M897.15 240.5V259.2M898.9 239.51V249.11M902.4 215.72V235.5M904.15 190.74V225.18M905.9 183.08V195.99M911.15 191.65V199.93M914.65 183.53V191.63M916.4 168.57V190.1M923.4 173.46V184.64M925.15 167.09V178.94M926.9 155.5V171.88M928.65 137.04V156.5M930.4 138.15V146.63M937.4 154.76V170.78M940.9 162.11V172.07M942.65 155.5V173.16M951.4 171.15V183M970.65 194.68V210.39M975.9 196.9V214.26M982.9 186.99V200.53M984.65 171.64V187.25M988.15 181.84V189.98M1002.15 194.98V205.2M1005.65 196.05V208.6M1012.65 222.82V229.5M1014.4 210.99V229.5M1030.15 244.86V254.92M1033.65 237.31V253.35M1035.4 230.89V248.82M1037.15 227.71V238.62M1038.9 233.03V241.08M1044.15 196.42V218.13M1047.65 168.6V182.76M1056.4 212.5V227.14M1059.9 233.4V255.85M1061.65 238.29V248.16M1065.15 219.65V238.76M1072.15 256.57V269.5M1077.4 269.85V284.83M1084.4 276.5V298.16M1089.65 288.7V302.34M1091.4 282.1V298.25M1103.65 292.24V301.46M1108.9 253.25V266.1M234.6 56.25V70.25M248.6 60.4V74.4M294 185.4V199.4M309.6 262.3V276.3M317.1 277V290M345 333.5V347.5M376.6 291V304M440.6 226V240M530.6 236V250M551.2 210.1V220.3M590.6 228.5V241.5M660.3 258.75V272.75M674.35 280.2V294.2M698.6 288V302M774.1 389.5V403.5M800.6 399.8V413.8M940.3 177.3V191.3M978.6 212.5V226.5M992.6 188V202M1004 204.5V218.5M1028.6 256.3V270.3M1081.2 292V306M333.6 261.3V275.3M369 243.5V257.5M470.2 115.3V129.3M484.1 129V139.46M512.4 112.5V126.5M601.6 152V166M625.3 170.6V184.6M767.1 305V317.3M839 311V322.38M852.6 286.8V298.68M898.6 234.7V247.95M905.6 176.5V190.5M917.4 154.4V168.4M930 122.9V136.9M956.6 147.25V159.75M1024.1 196V210M30.5 169V197M36.1 128V156M84.25 52V85.6M299 150V196M308.25 212V272M346 316V347M356.25 309V342.5M391.88 305V340.6M417.5 220V250M430.2 205V242.5M440.8 197.5V239M472.38 127.5V165M475.65 165V191M531.88 210V249M537.5 180V210M546.88 174V202.5M555 174V202M558.5 184V221M579.75 114V153.75M583.75 142.5V176M587 178V227M591.5 214V240M599.25 153.75V195M618.5 191V230M659.05 200V273M682.5 265.6V308.75M686.88 267.5V294M705.12 264V297.5M735.6 236.5V273M738.75 273V335M752 250.6V308.75M758.5 311V346M773 350.6V403M811.55 392V420M878.5 285V310M882 280.6V320M885.62 277V312.5M909.3 180.6V208.75M926.1 156V182.5M929.08 123.4V156M968.8 195.6V223.75M993.5 154V201M997.85 169V195.6M1026.5 200V269M1042.62 208.75V235M1081.55 269V305M1085.2 277V300M1088 290V313M1091.5 282.5V305" stroke="#44877a" stroke-width="1.25" fill="none"/>
<path d="M32.65 145.75V157.71M34.4 146.7V158.21M41.4 127.16V138.69M43.15 133.5V148.42M46.65 129.55V138.42M50.15 131.5V144.89M53.65 134.61V145.09M55.4 138.9V151.5M57.15 142.38V152.63M67.65 91.7V99.46M69.4 94.95V105.91M71.15 100.68V115.47M78.15 103.38V112.25M99.15 22.2V28.08M181.4 25.79V45.13M183.15 31.98V48.5M193.65 22.2V32.77M198.9 22.2V33.28M200.65 22.62V35.71M235.65 54.42V69.59M240.9 49.78V59.77M242.65 49.51V60.7M244.4 53.94V70.5M258.4 48.76V59.02M260.15 66.76V83.56M261.9 75.5V92.38M265.4 98.5V121.5M274.15 90.5V112.48M279.4 94.73V104.93M282.9 119.5V136.27M284.65 127.05V139.58M286.4 135.7V152.18M288.15 141.4V149.74M289.9 142.32V158.33M291.65 146.5V156.61M293.4 163.5V168.28M295.15 174.74V185.1M300.4 170.75V189.81M302.15 183.5V196.83M305.65 189.5V196.95M309.15 216.15V232.84M312.65 245.42V263.13M314.4 255.45V266.1M317.9 272.17V286.55M319.65 278.25V296.82M323.15 282.09V295.47M326.65 282.56V301.5M340.65 288.62V313.43M342.4 300.91V312.12M345.9 320.61V333.23M349.4 310.1V330.38M352.9 310.1V322.89M359.9 292.88V304.65M372.15 267.57V275.58M377.4 279.94V287.74M384.4 278.5V285.6M387.9 292.34V297.73M391.4 308.46V324.23M393.15 320.74V341.1M394.9 332.06V341.1M398.4 316.95V341.1M419.4 227.2V246.67M421.15 232.1V245.61M422.9 240.25V254.24M424.65 238.22V258.06M426.4 249.5V265.6M438.65 210.1V219.76M440.4 214.8V231.65M449.15 165.18V172.26M450.9 162.54V178.77M454.4 175.86V184.78M466.65 125.59V137.93M468.4 128.49V134.79M473.65 146.67V163.28M475.4 167.31V175.76M477.15 160.73V181.15M478.9 152.94V170.52M484.15 135.05V149.85M487.65 160.25V173M499.9 160.5V175.63M513.9 131.55V146.41M515.65 139.02V157.81M517.4 153.41V165.07M519.15 189.5V194.88M522.65 206.55V221.45M526.15 207.81V221.44M527.9 215.74V229.01M531.4 220.76V230.57M540.15 189.15V202.96M541.9 192.08V205.47M543.65 193.04V209.41M548.9 178.4V197.73M550.65 200.1V207.41M552.4 200.1V207.84M557.65 183.56V194.2M559.4 198.67V209.73M562.9 185.7V201.78M566.4 187.05V201.1M575.15 156.68V167.65M582.15 132.02V154.97M583.9 152.8V163.25M585.65 165.07V180.42M587.4 194.16V201.53M589.15 198.2V210.04M592.65 225.68V233.74M604.9 171.69V182.97M606.65 178.14V189.39M608.4 182.51V204.17M610.15 179.5V198.63M613.65 191.82V215.68M629.4 183.57V191.52M631.15 194.59V213.8M632.9 205.62V223.21M639.9 201.23V208.01M648.65 185.1V195.65M650.4 185.33V196.38M655.65 194.35V206.95M657.4 200.33V236.72M666.15 230.97V241.21M667.9 237.67V257.07M669.65 249.2V265.45M671.4 257.01V273.76M676.65 278.18V291.15M683.65 285.31V297.38M695.9 255.64V279.14M697.65 272.3V296.07M701.15 279.75V291.07M702.9 286.19V296.65M706.4 281.07V294.68M708.15 284.59V302.28M723.9 255.75V286.75M729.15 288.44V296.04M736.15 251.11V267.49M737.9 272.5V299.23M739.65 300.52V335.5M741.4 327.23V339.93M748.4 244.02V256.56M751.9 264.38V296.17M755.4 302.72V322.62M757.15 313.03V328.47M758.9 320.77V341.54M767.65 320.4V328.73M769.4 329.5V339.09M771.15 332.59V338.77M772.9 358.75V375.98M778.15 359.39V375.14M779.9 368.37V383M783.4 387V400.26M786.9 375.47V386.61M790.4 357.5V373.1M792.15 391.5V395.99M793.9 391.5V402.1M795.65 394.44V405.63M804.4 370.5V383.89M807.9 377.09V393.3M811.4 403.71V414.11M825.4 371.18V385.09M839.4 326.93V334.25M844.65 311.12V324.67M849.9 303.25V315.29M851.65 298.97V316.3M855.15 294.5V307.91M856.9 294.52V303.29M865.65 316.66V326.4M874.4 284.66V297.95M877.9 292.36V301.99M881.4 301.29V315.21M888.4 259.25V271.5M893.65 242.71V264.73M918.15 157.24V184.48M919.9 185.02V192.27M921.65 178.42V194.94M935.65 164.27V170.35M939.15 155.5V170.29M946.15 164.5V183.74M947.9 163.13V180.15M949.65 170.87V187.64M953.15 169.23V180.49M954.9 169.05V173.5M956.65 159.98V165.06M958.4 156.69V164.81M960.15 160.65V171.76M965.4 188.8V197.98M967.15 195.1V203.35M968.9 201.28V207.26M972.4 190.93V208.8M977.65 200.86V213.97M979.4 205.78V217.45M981.15 204.4V222.41M986.4 176.39V190.47M993.4 164V177.02M996.9 173.69V185.48M998.65 179V194.81M1003.9 196.25V205.54M1007.4 192.45V204.52M1009.15 196.09V213.86M1010.9 210.1V228.83M1017.9 202.5V220.54M1021.4 198.39V204.88M1023.15 207.9V222.87M1024.9 199.06V230.87M1040.65 229.63V242.66M1049.4 189.5V201.8M1051.15 199.55V207.24M1054.65 212.5V223.91M1058.15 214.99V228.35M1066.9 229.5V240.23M1068.65 229.5V240.69M1079.15 272.67V281.39M1080.9 277.63V287.04M1082.65 283.19V293.43M1086.15 280.95V295.58M1087.9 289.5V305.19M1093.15 282.3V294.22M1096.65 290.46V302.55M1098.4 291.06V304.67M1100.15 292.17V303.55M1101.9 299.97V305.5M1105.4 279.68V290.84M79.6 107.4V121.4M179.6 36V50M198.6 46V60M228.6 40.7V54.7M261.6 86.5V96M265.6 110V121M270.3 112.3V126.3M301.6 201.5V212M325 291V305M356.6 328.5V342.5M394.9 330.75V344.75M425.3 260.12V270M476.2 179.75V192.75M522.6 216V230M632.6 214V228M644 198.75V210M671.2 266V280M681.85 294.75V308.75M708.6 304.5V318.5M728.6 292.5V306.5M742.2 343V357M757.6 332V346M792.6 400.7V410M811.2 406.2V420.2M865.2 315.5V327M883.4 307V321M919 190V204M948.6 179.75V193.75M969.35 209.75V223.75M1012.1 219.8V229M1059.1 250.7V264.7M1087.4 302.3V313.8M65.3 83V97M248.6 33.2V47.2M418.6 217.75V231.7M430.35 201.8V215.8M495.9 146.8V155.3M543.6 165V179M555.35 173V187M646.6 173.8V187.8M694 240.3V254.3M722.1 245V259M736.2 236.2V250.2M875.9 273.5V287.5M892.6 241.6V254.55M985.6 162V176M994.1 153.8V167.8M1045.6 165.6V179.6M33 124V160M39.7 119V143M46.88 124V149M63.1 85.6V129M79.75 87.5V119M228 22.2V54M231.5 30V56M294.7 164V199M317.38 264V290M322.5 273V303M342.5 282.5V320M366.55 248.75V286M371.5 254V294M412.5 247V284M479.2 144V172.5M510.7 114V172.5M542 172.5V212M595 190V219M646.25 174V202.5M664.25 222.5V256M675.12 254V294M678.75 267.5V294M696.15 252.5V290M708.75 284V318M722.45 245V275M726.2 267.5V297.5M741.25 300V356M743.25 262V340M755.45 290V331M769.7 330V352.5M782.45 371V401M801 382.5V413.4M822.85 375V403M890.2 246V271M903 193.75V235M906 177V205M917.5 154V197.5M932 133.75V158M935.5 148.75V182.5M956.1 148V173M960.2 152.5V178.75M964.5 177V207M979.5 190V225.6M983.8 162V201M1007.5 182.5V210.6M1046.55 165.6V193.75M1050.95 190V231M1060 228V263.75M1063.8 216V239M1071.5 245V269M1094.67 284V313M1104.5 275V301M1107.5 256V295.6" stroke="#a06166" stroke-width="1.25" fill="none"/>
<path d="M30.9 183.36V192M36.15 140.63V150.55M64.15 98.49V110.85M72.9 106V118M83.4 72.87V85.09M90.4 32.54V41.86M95.65 22.2V36.15M97.4 22.2V26.78M186.65 22.2V30.3M195.4 22.2V35.81M202.4 22.2V46.69M247.9 58.78V68.33M253.15 51.74V65.9M254.9 42.04V62.35M310.9 242.5V256.52M331.9 284.02V301.5M347.65 314.47V333.95M358.15 288.17V305.5M368.65 251.57V275.15M373.9 266.29V277.57M405.4 283.97V299.76M429.9 229.01V240.42M431.65 221.12V234.07M435.15 210.1V218.84M442.15 210.61V221.17M443.9 193.77V209.5M459.65 141.84V158.49M482.4 136.12V145.24M492.9 151.39V166.53M501.65 167.16V173.06M524.4 204.89V213.88M536.65 191.17V207.32M564.65 189.83V196.01M578.65 130.2V154.25M594.4 203.61V219.5M599.65 169.04V183.95M624.15 183.67V200.97M636.4 202.88V209.63M660.9 204.94V247.34M681.9 277.22V287.81M687.15 270.94V287.84M690.65 262.31V275.5M699.4 279.93V290.82M746.65 242.5V259.1M765.9 318.8V331.88M799.15 397.92V407.09M814.9 389.77V409.25M816.65 389.67V407.85M818.4 386.69V396.71M835.9 346.18V355.31M858.65 294.5V299.88M872.65 281.23V293.13M900.65 234.7V246.34M909.4 186.11V198.09M912.9 183.05V194.25M989.9 178.56V193.6M991.65 162.16V195.67M1016.15 205.98V223.52M1019.65 200.88V215.58M1042.4 221.73V232.09M1045.9 180.72V192.08M1063.4 229.33V239.5M1075.65 271.11V285.97M1107.15 266.25V296.1" stroke="#2a9a86" stroke-width="1.25" fill="none"/>
<path d="M51.9 132.24V142.86M65.9 93.27V106.18M79.9 93.01V109.8M197.15 22.2V39.23M228.65 35.18V48.71M230.4 36.02V43.38M232.15 38.64V53.21M233.9 49.75V69.1M239.15 52.37V65.67M267.15 108.59V122.5M268.9 105.62V121.27M281.15 102V120.06M298.65 152.24V177.96M316.15 263.5V277.19M335.4 276.89V297.53M337.15 279.03V295.01M338.9 276.8V297.24M354.65 312.74V324.32M379.15 280.67V293.21M386.15 284.38V290.4M389.65 299.95V320.21M417.65 220.69V239.2M428.15 250.01V260.43M452.65 172.39V185.58M461.4 137V150.35M496.4 152.7V157.74M503.4 165.25V174.5M529.65 216.68V229.19M547.15 180.66V189.85M568.15 188.87V201.1M590.9 215.06V220.88M611.9 185.53V208.85M617.15 210.59V227.41M622.4 187.14V204.5M627.65 174.94V191.45M653.9 193.47V209.5M674.9 276.3V284.21M678.4 273.37V286.6M680.15 275.49V284.19M709.9 301.25V318.12M725.65 279.65V287.07M727.4 280V295.4M750.15 248.95V274.08M753.65 283V314.81M774.65 360.37V374.29M781.65 373.59V386.09M806.15 370.5V382.66M809.65 390.39V413.17M813.15 407.64V420.5M832.4 352.82V368.2M837.65 323.39V334.25M860.4 302.5V317.54M862.15 309.33V321.82M863.9 307.21V319.49M876.15 292.04V301.77M879.65 296.21V309.5M907.65 178.84V193.56M932.15 139.37V149.64M933.9 146.75V173.36M944.4 161.5V173.57M961.9 165.93V174.64M963.65 176.55V185.88M974.15 195.93V208.74M995.15 162.68V186.95M1000.4 191.42V205.02M1026.65 215.99V248.07M1028.4 224.98V266.82M1031.9 246.24V266.41M1052.9 199.72V209.8M1070.4 244.5V266.37M1073.9 260.66V283.42M1094.9 291.77V302.08" stroke="#d84a4c" stroke-width="1.25" fill="none"/>
<path d="M30.4 224H141M42.75 174.4H75.5M79 121.4H136M147 26.5H175M158 23.7H175M179 50H196M198 60H227M228 54.7H231M234 70.25H247M248 74.4H258.4M261 96H265M265 121H268M269.7 126.3H280M285 157H288.75M293.4 199.4H299M301 212H305.6M309 276.3H314M316.5 290H319M324.4 305H341M344.4 347.5H386.6M356 342.5H373M376 304H383.4M394.3 344.75H474M424.7 270H438M440 240H470.6M475.6 192.75H515M499 188H515M522 230H528M530 250H559M550.6 220.3H559M560.4 226.3H586M590 241.5H616M609.7 213.75H613.4M617 240.4H657.5M632 228H641.5M643.4 210H650M659.7 272.75H669.6M670.6 280H673.4M673.75 294.2H679.75M681.25 308.75H706.5M698 302H706.5M708 318.5H737M728 306.5H737M741.6 357H769.4M757 346H767M773.5 403.5H790M792 410H799.4M800 413.8H808.75M810.6 420.2H946.9M864.6 327H880M882.8 321H917M918.4 204H934.4M939.7 191.3H947M948 193.75H964M968.75 223.75H977M978 226.5H1003.4M992 202H998.75M1003.4 218.5H1008M1011.5 229H1024M1028 270.3H1057M1058.5 264.7H1070M1080.6 306H1084M1086.8 313.8H1109" stroke="#3f68d8" stroke-width="1.1" fill="none"/>
<path d="M34 117H60M64.7 83H81.6M248 33.2H329M333 261.3H351M368.4 243.5H407.8M418 217.75H429.4M429.75 201.8H439.7M447.5 155H454.7M469.6 115.3H509.75M483.5 129H493M495.3 146.8H506M511.8 112.5H541.6M543 165H571M554.75 173H568M581.5 113.8H718.75M601 152H621.5M624.7 170.6H643.4M646 173.8H687.8M693.4 240.3H714M721.5 245H732.8M735.6 236.2H828.4M750.6 238.8H764.7M766.5 305H800M808.75 360.4H829.4M838.4 311H843.4M852 286.8H867M875.3 273.5H886.5M887.5 246H891M892 241.6H896M898 234.7H901.5M905 176.5H910.6M916.8 154.4H925M929.4 122.9H991.6M956 147.25H973.4M985 162H992M993.5 153.8H1041M1023.5 196H1033.4M1045 165.6H1105M1065.6 215.2H1099.75" stroke="#c9485a" stroke-width="1.1" fill="none"/>
<path d="M248 32.75V37.5H255V45" stroke="#d24a52" stroke-width="0.9" fill="none"/>
<line x1="581.5" y1="113.8" x2="999.75" y2="410.9" stroke="#c92f42" stroke-width="1.75" stroke-linecap="round"/>
<line x1="30.4" y1="251.5" x2="1191.5" y2="251.5" stroke="#869996" stroke-width="1" stroke-dasharray="1 1.7"/>
<line x1="31.4" y1="484" x2="1191.5" y2="484" stroke="#808289" stroke-width="1" stroke-dasharray="4.6 4.2" fill="none"/>
<line x1="31.4" y1="517.1" x2="1191.5" y2="517.1" stroke="#808289" stroke-width="1" stroke-dasharray="4.6 4.2" fill="none"/>
<line x1="31.4" y1="618.3" x2="1191.5" y2="618.3" stroke="#808289" stroke-width="1" stroke-dasharray="4.6 4.2" fill="none"/>
<line x1="31.4" y1="652.4" x2="1191.5" y2="652.4" stroke="#808289" stroke-width="1" stroke-dasharray="4.6 4.2" fill="none"/>
<line x1="30.4" y1="567.4" x2="235" y2="567.4" stroke="#e03b4b" stroke-width="1"/>
<line x1="30.4" y1="567.4" x2="235" y2="567.4" stroke="#4a78e0" stroke-width="1" stroke-dasharray="1 1.5" opacity="0.28"/>
<line x1="235" y1="567.4" x2="534" y2="567.4" stroke="#4a78e0" stroke-width="1"/>
<line x1="235" y1="567.4" x2="534" y2="567.4" stroke="#e03b4b" stroke-width="1" stroke-dasharray="1 1.5" opacity="0.28"/>
<line x1="534" y1="567.4" x2="605" y2="567.4" stroke="#e03b4b" stroke-width="1"/>
<line x1="534" y1="567.4" x2="605" y2="567.4" stroke="#4a78e0" stroke-width="1" stroke-dasharray="1 1.5" opacity="0.28"/>
<line x1="605" y1="567.4" x2="921" y2="567.4" stroke="#4a78e0" stroke-width="1"/>
<line x1="605" y1="567.4" x2="921" y2="567.4" stroke="#e03b4b" stroke-width="1" stroke-dasharray="1 1.5" opacity="0.28"/>
<line x1="921" y1="567.4" x2="1109" y2="567.4" stroke="#e03b4b" stroke-width="1"/>
<line x1="921" y1="567.4" x2="1109" y2="567.4" stroke="#4a78e0" stroke-width="1" stroke-dasharray="1 1.5" opacity="0.28"/>
<path d="M29.05 560.26C29.97 549.91 33.09 506.78 34.55 498.16C36.01 489.53 36.84 506.35 37.8 508.51C38.76 510.66 39.26 500.31 40.3 511.1C41.34 521.88 43.01 559.4 44.05 573.2C45.09 587 45.72 590.01 46.55 593.9C47.38 597.78 47.92 593.03 49.05 596.48C50.17 599.93 52.05 613.3 53.3 614.6C54.55 615.89 55.38 618.91 56.55 604.25C57.72 589.58 58.84 545.08 60.3 526.62C61.76 508.16 63.84 495.66 65.3 493.5C66.76 491.34 67.8 499.54 69.05 513.68C70.3 527.83 71.55 560.69 72.8 578.37C74.05 596.05 75.38 609.85 76.55 619.77C77.72 629.69 78.76 642.63 79.8 637.88C80.84 633.14 81.76 612.01 82.8 591.31C83.84 570.61 85.01 531.15 86.05 513.68C87.09 496.22 88.13 488.89 89.05 486.51C89.97 484.14 90.63 496.43 91.55 499.45C92.47 502.47 93.51 500.1 94.55 504.63C95.59 509.16 96.84 517.35 97.8 526.62C98.76 535.89 99.55 552.06 100.3 560.26C101.05 568.45 101.67 577.94 102.3 575.78C102.92 573.63 103.42 555.95 104.05 547.32C104.67 538.7 105.3 518.86 106.05 524.03C106.8 529.21 107.92 567.59 108.55 578.37C109.17 589.15 109.22 593.03 109.8 588.72C110.38 584.41 111.22 566.08 112.05 552.5C112.88 538.91 113.84 509.37 114.8 507.21C115.76 505.06 116.88 531.58 117.8 539.56C118.72 547.54 119.59 552.93 120.3 555.08C121.01 557.24 121.42 547.75 122.05 552.5C122.67 557.24 123.22 570.61 124.05 583.55C124.88 596.48 126.01 628.83 127.05 630.12C128.09 631.41 129.13 601.87 130.3 591.31C131.47 580.74 132.93 565.43 134.05 566.73C135.18 568.02 136.01 586.78 137.05 599.07C138.09 611.36 139.34 631.85 140.3 640.47C141.26 649.1 142.09 650.39 142.8 650.82C143.51 651.25 143.93 643.27 144.55 643.06C145.18 642.84 145.8 648.66 146.55 649.53C147.3 650.39 148.22 651.47 149.05 648.23C149.88 645 150.72 638.31 151.55 630.12C152.38 621.93 153.22 606.83 154.05 599.07C154.88 591.31 155.72 584.41 156.55 583.55C157.38 582.68 158.22 599.07 159.05 593.9C159.88 588.72 160.59 568.02 161.55 552.5C162.51 536.97 163.76 508.94 164.8 500.75C165.84 492.55 166.88 503.76 167.8 503.33C168.72 502.9 169.59 499.88 170.3 498.16C171.01 496.43 171.34 488.24 172.05 492.98C172.76 497.73 173.59 508.94 174.55 526.62C175.51 544.3 176.76 580.96 177.8 599.07C178.84 617.18 179.76 638.75 180.8 635.3C181.84 631.85 183.01 600.8 184.05 578.37C185.09 555.95 186.3 515.62 187.05 500.75C187.8 485.87 187.8 484.79 188.55 489.1C189.3 493.41 190.55 515.19 191.55 526.62C192.55 538.05 193.63 549.91 194.55 557.67C195.47 565.43 196.09 563.49 197.05 573.2C198.01 582.9 199.13 619.34 200.3 615.89C201.47 612.44 202.8 573.41 204.05 552.5C205.3 531.58 206.76 502.04 207.8 490.4C208.84 478.75 209.05 483.28 210.3 482.63C211.55 481.99 214.05 483.5 215.3 486.51C216.55 489.53 216.97 487.59 217.8 500.75C218.63 513.9 219.26 543.01 220.3 565.43C221.34 587.86 222.88 621.28 224.05 635.3C225.22 649.31 226.26 652.11 227.3 649.53C228.34 646.94 229.38 626.89 230.3 619.77C231.22 612.66 231.88 606.62 232.8 606.83C233.72 607.05 234.84 622.36 235.8 621.06C236.76 619.77 237.59 603.6 238.55 599.07C239.51 594.54 240.63 601.66 241.55 593.9C242.47 586.13 243.01 565 244.05 552.5C245.09 539.99 246.97 524.9 247.8 518.86C248.63 512.82 248.43 517.13 249.05 516.27C249.68 515.41 250.72 517.56 251.55 513.68C252.38 509.8 253.43 495.14 254.05 492.98C254.68 490.83 254.68 490.83 255.3 500.75C255.93 510.66 256.97 534.38 257.8 552.5C258.63 570.61 259.59 596.7 260.3 609.42C261.01 622.14 261.22 624.95 262.05 628.83C262.88 632.71 264.47 631.41 265.3 632.71C266.13 634 266.22 643.49 267.05 636.59C267.88 629.69 269.34 606.62 270.3 591.31C271.26 576 272.05 555.3 272.8 544.73C273.55 534.17 273.97 528.13 274.8 527.91C275.63 527.7 276.88 541.28 277.8 543.44C278.72 545.6 279.47 538.48 280.3 540.85C281.13 543.22 281.97 548.4 282.8 557.67C283.63 566.94 284.59 587 285.3 596.48C286.01 605.97 286.34 616.75 287.05 614.6C287.76 612.44 288.88 589.58 289.55 583.55C290.22 577.51 290.38 574.92 291.05 578.37C291.72 581.82 292.76 596.7 293.55 604.25C294.34 611.79 295.09 630.12 295.8 623.65C296.51 617.18 297.05 585.49 297.8 565.43C298.55 545.38 299.47 505.49 300.3 503.33C301.13 501.18 301.76 535.68 302.8 552.5C303.84 569.31 305.3 589.37 306.55 604.25C307.8 619.12 309.26 639.18 310.3 641.76C311.34 644.35 311.97 628.61 312.8 619.77C313.63 610.93 314.47 594.54 315.3 588.72C316.13 582.9 316.76 585.7 317.8 584.84C318.84 583.98 320.43 583.98 321.55 583.55C322.68 583.11 323.51 586.13 324.55 582.25C325.59 578.37 326.63 573.84 327.8 560.26C328.97 546.67 330.51 512.61 331.55 500.75C332.59 488.89 333.13 489.75 334.05 489.1C334.97 488.46 336.13 494.92 337.05 496.86C337.97 498.81 338.8 497.94 339.55 500.75C340.3 503.55 340.8 502.9 341.55 513.68C342.3 524.46 343.22 547.54 344.05 565.43C344.88 583.33 345.51 618.91 346.55 621.06C347.59 623.22 349.05 590.23 350.3 578.37C351.55 566.51 353.01 558.53 354.05 549.91C355.09 541.28 355.63 536.11 356.55 526.62C357.47 517.13 358.72 499.67 359.55 492.98C360.38 486.3 360.8 483.93 361.55 486.51C362.3 489.1 363.38 503.33 364.05 508.51C364.72 513.68 364.93 518.86 365.55 517.56C366.18 516.27 367.18 504.84 367.8 500.75C368.43 496.65 368.68 488.67 369.3 492.98C369.93 497.3 370.76 510.23 371.55 526.62C372.34 543.01 373.22 574.06 374.05 591.31C374.88 608.56 375.72 621.71 376.55 630.12C377.38 638.53 378.22 641.33 379.05 641.76C379.88 642.2 380.72 635.73 381.55 632.71C382.38 629.69 383.22 625.38 384.05 623.65C384.88 621.93 385.72 621.28 386.55 622.36C387.38 623.44 388.3 625.38 389.05 630.12C389.8 634.86 390.43 646.51 391.05 650.82C391.68 655.13 392.09 663.76 392.8 656C393.51 648.23 394.38 619.77 395.3 604.25C396.22 588.72 397.55 568.67 398.3 562.85C399.05 557.02 399.26 571.04 399.8 569.31C400.34 567.59 400.84 563.06 401.55 552.5C402.26 541.93 403.22 517.13 404.05 505.92C404.88 494.71 405.3 489.45 406.55 485.22C407.8 480.99 410.09 480.78 411.55 480.56C413.01 480.35 414.13 482.29 415.3 483.93C416.47 485.57 417.72 485.44 418.55 490.4C419.38 495.36 419.59 499.02 420.3 513.68C421.01 528.35 421.97 558.96 422.8 578.37C423.63 597.78 424.68 620.29 425.3 630.12C425.93 639.95 425.93 641.68 426.55 637.37C427.18 633.05 428.22 616.23 429.05 604.25C429.88 592.26 430.72 574.92 431.55 565.43C432.38 555.95 433.22 553.79 434.05 547.32C434.88 540.85 435.84 531.36 436.55 526.62C437.26 521.88 437.68 517.13 438.3 518.86C438.93 520.58 439.76 533.31 440.3 536.97C440.84 540.64 440.93 546.03 441.55 540.85C442.18 535.68 443.13 513.68 444.05 505.92C444.97 498.16 446.13 495.36 447.05 494.28C447.97 493.2 448.8 491.91 449.55 499.45C450.3 507 450.88 527.7 451.55 539.56C452.22 551.42 453.05 564.79 453.55 570.61C454.05 576.43 453.84 574.27 454.55 574.49C455.26 574.71 456.97 575.57 457.8 571.9C458.63 568.24 458.72 557.24 459.55 552.5C460.38 547.75 461.84 547.75 462.8 543.44C463.76 539.13 464.38 531.36 465.3 526.62C466.22 521.88 467.47 510.66 468.3 514.98C469.13 519.29 469.55 535.46 470.3 552.5C471.05 569.53 471.97 600.58 472.8 617.18C473.63 633.79 474.47 651.68 475.3 652.11C476.13 652.55 476.97 631.2 477.8 619.77C478.63 608.34 479.47 592.39 480.3 583.55C481.13 574.71 481.97 566.73 482.8 566.73C483.63 566.73 484.55 579.45 485.3 583.55C486.05 587.64 486.47 591.74 487.3 591.31C488.13 590.88 489.51 580.96 490.3 580.96C491.09 580.96 491.34 586.78 492.05 591.31C492.76 595.84 493.8 605.97 494.55 608.13C495.3 610.28 495.93 602.31 496.55 604.25C497.18 606.19 497.8 614.68 498.3 619.77C498.8 624.86 499.01 639.52 499.55 634.78C500.09 630.03 500.8 605.45 501.55 591.31C502.3 577.16 503.34 558.19 504.05 549.91C504.76 541.63 505.18 543.78 505.8 541.63C506.43 539.47 507.05 542.49 507.8 536.97C508.55 531.45 509.59 514.33 510.3 508.51C511.01 502.69 511.42 496.86 512.05 502.04C512.67 507.21 513.3 522.52 514.05 539.56C514.8 556.59 515.63 587 516.55 604.25C517.47 621.5 518.51 635.81 519.55 643.06C520.59 650.3 521.84 649.87 522.8 647.72C523.76 645.56 524.47 635.86 525.3 630.12C526.13 624.39 526.97 614.51 527.8 613.3C528.63 612.09 529.47 628.7 530.3 622.88C531.13 617.05 531.76 597.43 532.8 578.37C533.84 559.31 535.51 521.88 536.55 508.51C537.59 495.14 538.22 499.24 539.05 498.16C539.88 497.08 540.8 502.69 541.55 502.04C542.3 501.39 542.88 496.13 543.55 494.28C544.22 492.42 544.84 487.68 545.55 490.91C546.26 494.15 547.01 501.26 547.8 513.68C548.59 526.1 549.55 552.06 550.3 565.43C551.05 578.8 551.67 596.05 552.3 593.9C552.92 591.74 553.42 563.79 554.05 552.5C554.67 541.2 555.22 521.79 556.05 526.1C556.88 530.42 558.13 564.92 559.05 578.37C559.97 591.83 560.84 608.99 561.55 606.83C562.26 604.68 562.59 576.65 563.3 565.43C564.01 554.22 564.84 544.73 565.8 539.56C566.76 534.38 568.09 539.56 569.05 534.38C570.01 529.21 570.63 516.7 571.55 508.51C572.47 500.31 573.63 489.53 574.55 485.22C575.47 480.91 575.97 481.34 577.05 482.63C578.13 483.93 580.09 487.81 581.05 492.98C582.01 498.16 582.09 495.14 582.8 513.68C583.51 532.23 584.47 580.74 585.3 604.25C586.13 627.75 586.76 650.39 587.8 654.7C588.84 659.01 590.3 645 591.55 630.12C592.8 615.24 594.05 584.84 595.3 565.43C596.55 546.03 597.92 525.11 599.05 513.68C600.17 502.26 601.13 497.73 602.05 496.86C602.97 496 603.59 503.55 604.55 508.51C605.51 513.47 606.84 512.82 607.8 526.62C608.76 540.42 609.59 575.57 610.3 591.31C611.01 607.05 611.22 612.87 612.05 621.06C612.88 629.26 614.42 635.51 615.3 640.47C616.17 645.43 616.47 659.01 617.3 650.82C618.13 642.63 619.17 614.16 620.3 591.31C621.42 568.45 623.01 528.91 624.05 513.68C625.09 498.46 625.72 495.66 626.55 499.97C627.38 504.28 628.22 525.63 629.05 539.56C629.88 553.49 630.92 574.4 631.55 583.55C632.17 592.69 632.17 599.59 632.8 594.41C633.42 589.24 634.59 559.27 635.3 552.5C636.01 545.73 636.51 550.43 637.05 553.79C637.59 557.15 638.01 571.17 638.55 572.68C639.09 574.19 639.67 565.78 640.3 562.85C640.92 559.91 641.47 558.53 642.3 555.08C643.13 551.63 644.47 545.6 645.3 542.15C646.13 538.7 646.67 532.66 647.3 534.38C647.92 536.11 648.59 545.16 649.05 552.5C649.51 559.83 649.63 568.02 650.05 578.37C650.47 588.72 651.09 605.67 651.55 614.6C652.01 623.52 652.17 632.79 652.8 631.93C653.42 631.07 654.59 613.82 655.3 609.42C656.01 605.02 656.42 602.09 657.05 605.54C657.67 608.99 658.42 623.65 659.05 630.12C659.67 636.59 660.17 650.82 660.8 644.35C661.42 637.88 661.97 607.83 662.8 591.31C663.63 574.79 664.76 548.27 665.8 545.25C666.84 542.23 668.09 564.23 669.05 573.2C670.01 582.17 670.8 592.17 671.55 599.07C672.3 605.97 672.8 618.05 673.55 614.6C674.3 611.15 675.22 587.94 676.05 578.37C676.88 568.8 677.84 559.31 678.55 557.15C679.26 555 679.8 562.98 680.3 565.43C680.8 567.89 680.92 578.37 681.55 571.9C682.17 565.43 683.13 539.34 684.05 526.62C684.97 513.9 686.01 502.9 687.05 495.57C688.09 488.24 689.34 484.79 690.3 482.63C691.26 480.48 691.97 477.46 692.8 482.63C693.63 487.81 694.47 499.88 695.3 513.68C696.13 527.48 696.97 551.63 697.8 565.43C698.63 579.23 699.55 589.8 700.3 596.48C701.05 603.17 701.59 605.54 702.3 605.54C703.01 605.54 703.92 598.64 704.55 596.48C705.17 594.33 705.51 590.88 706.05 592.6C706.59 594.33 707.09 600.8 707.8 606.83C708.51 612.87 709.47 633.57 710.3 628.83C711.13 624.08 711.97 597.56 712.8 578.37C713.63 559.18 714.47 527.14 715.3 513.68C716.13 500.23 716.97 501.09 717.8 497.64C718.63 494.19 719.55 494.41 720.3 492.98C721.05 491.56 721.59 486.51 722.3 489.1C723.01 491.69 723.76 493.63 724.55 508.51C725.34 523.39 726.22 561.12 727.05 578.37C727.88 595.62 728.72 614.16 729.55 612.01C730.38 609.85 731.09 580.44 732.05 565.43C733.01 550.43 734.42 521.96 735.3 521.96C736.17 521.96 736.59 549.13 737.3 565.43C738.01 581.73 738.84 606.7 739.55 619.77C740.26 632.84 740.8 650.73 741.55 643.83C742.3 636.93 743.22 598.77 744.05 578.37C744.88 557.97 745.72 533.22 746.55 521.45C747.38 509.67 748.13 506.87 749.05 507.73C749.97 508.59 751.01 514.85 752.05 526.62C753.09 538.39 754.26 565.86 755.3 578.37C756.34 590.88 757.47 596.48 758.3 601.66C759.13 606.83 759.55 609.42 760.3 609.42C761.05 609.42 762.05 603.73 762.8 601.66C763.55 599.59 764.05 600.02 764.8 597C765.55 593.98 766.51 586.65 767.3 583.55C768.09 580.44 768.84 577.51 769.55 578.37C770.26 579.23 770.92 582.68 771.55 588.72C772.17 594.76 772.76 608.34 773.3 614.6C773.84 620.85 774.26 630.12 774.8 626.24C775.34 622.36 775.97 603.6 776.55 591.31C777.13 579.02 777.8 560.34 778.3 552.5C778.8 544.65 778.92 544.22 779.55 544.22C780.17 544.22 781.3 549.82 782.05 552.5C782.8 555.17 783.3 565.43 784.05 560.26C784.8 555.08 785.8 531.36 786.55 521.45C787.3 511.53 787.8 497.73 788.55 500.75C789.3 503.76 790.22 525.76 791.05 539.56C791.88 553.36 792.92 573.63 793.55 583.55C794.17 593.46 794.3 598.21 794.8 599.07C795.3 599.93 796.05 591.01 796.55 588.72C797.05 586.44 797.17 590.53 797.8 585.36C798.42 580.18 799.47 569.62 800.3 557.67C801.13 545.73 802.09 523.17 802.8 513.68C803.51 504.2 803.92 502.26 804.55 500.75C805.17 499.24 805.97 503.33 806.55 504.63C807.13 505.92 807.55 502.69 808.05 508.51C808.55 514.33 808.88 525.76 809.55 539.56C810.22 553.36 811.3 579.88 812.05 591.31C812.8 602.74 813.3 611.15 814.05 608.13C814.8 605.11 815.63 583.24 816.55 573.2C817.47 563.15 818.63 553.88 819.55 547.84C820.47 541.8 821.3 541.37 822.05 536.97C822.8 532.57 823.3 527.27 824.05 521.45C824.8 515.62 825.72 505.71 826.55 502.04C827.38 498.37 828.22 500.1 829.05 499.45C829.88 498.81 830.72 495.79 831.55 498.16C832.38 500.53 833.13 507.43 834.05 513.68C834.97 519.94 836.22 535.68 837.05 535.68C837.88 535.68 838.47 519.29 839.05 513.68C839.63 508.08 839.92 502.04 840.55 502.04C841.17 502.04 841.92 510.79 842.8 513.68C843.67 516.57 844.88 517.65 845.8 519.38C846.72 521.1 847.55 519.81 848.3 524.03C849.05 528.26 849.34 543.35 850.3 544.73C851.26 546.11 853.09 526.71 854.05 532.31C855.01 537.92 855.3 562.07 856.05 578.37C856.8 594.67 857.72 618.91 858.55 630.12C859.38 641.33 859.92 642.97 861.05 645.65C862.17 648.32 864.17 653.06 865.3 646.16C866.42 639.26 867.09 619.86 867.8 604.25C868.51 588.63 869.01 566.08 869.55 552.5C870.09 538.91 870.51 522.74 871.05 522.74C871.59 522.74 872.22 544.17 872.8 552.5C873.38 560.82 873.92 572.68 874.55 572.68C875.17 572.68 876.05 557.5 876.55 552.5C877.05 547.49 877.05 540.51 877.55 542.66C878.05 544.82 878.8 555.17 879.55 565.43C880.3 575.7 881.22 593.68 882.05 604.25C882.88 614.81 883.8 633.14 884.55 628.83C885.3 624.51 885.88 595.41 886.55 578.37C887.22 561.34 887.92 536.97 888.55 526.62C889.17 516.27 889.59 515.41 890.3 516.27C891.01 517.13 891.97 528.13 892.8 531.8C893.63 535.46 894.26 536.45 895.3 538.26C896.34 540.08 898.01 541.15 899.05 542.66C900.09 544.17 900.8 552.15 901.55 547.32C902.3 542.49 902.88 521.75 903.55 513.68C904.22 505.62 904.84 496.78 905.55 498.93C906.26 501.09 907.13 516.4 907.8 526.62C908.47 536.84 909.09 552.84 909.55 560.26C910.01 567.68 909.8 570.69 910.55 571.13C911.3 571.56 913.13 564.36 914.05 562.85C914.97 561.34 915.42 558.62 916.05 562.07C916.67 565.52 917.09 573.93 917.8 583.55C918.51 593.16 919.55 611.92 920.3 619.77C921.05 627.62 921.47 634.09 922.3 630.64C923.13 627.19 924.26 612.09 925.3 599.07C926.34 586.05 927.51 563.41 928.55 552.5C929.59 541.59 930.63 529.29 931.55 533.61C932.47 537.92 933.22 564.01 934.05 578.37C934.88 592.73 935.72 610.93 936.55 619.77C937.38 628.61 938.13 628.61 939.05 631.41C939.97 634.22 941.22 637.24 942.05 636.59C942.88 635.94 943.38 629.47 944.05 627.53C944.72 625.59 945.42 623.65 946.05 624.95C946.67 626.24 947.22 632.28 947.8 635.3C948.38 638.31 948.92 650.39 949.55 643.06C950.17 635.73 950.8 612.87 951.55 591.31C952.3 569.75 953.22 530.29 954.05 513.68C954.88 497.08 955.63 491.69 956.55 491.69C957.47 491.69 958.51 494.92 959.55 513.68C960.59 532.44 961.84 582.17 962.8 604.25C963.76 626.33 964.17 639.05 965.3 646.16C966.42 653.28 968.3 651.34 969.55 646.94C970.8 642.54 971.63 632.06 972.8 619.77C973.97 607.48 975.3 588.72 976.55 573.2C977.8 557.67 979.26 538.7 980.3 526.62C981.34 514.55 981.97 507 982.8 500.75C983.63 494.49 984.47 486.95 985.3 489.1C986.13 491.26 987.05 503.98 987.8 513.68C988.55 523.39 989.26 540.42 989.8 547.32C990.34 554.22 990.55 556.38 991.05 555.08C991.55 553.79 992.22 547.75 992.8 539.56C993.38 531.36 993.92 512.52 994.55 505.92C995.17 499.32 995.88 492.21 996.55 499.97C997.22 507.73 997.8 530.8 998.55 552.5C999.3 574.19 1000.22 613.09 1001.05 630.12C1001.88 647.16 1002.72 654.7 1003.55 654.7C1004.38 654.7 1005.34 638.53 1006.05 630.12C1006.76 621.71 1007.17 610.28 1007.8 604.25C1008.42 598.21 1009.17 591.31 1009.8 593.9C1010.42 596.48 1011.05 613.3 1011.55 619.77C1012.05 626.24 1012.26 635.3 1012.8 632.71C1013.34 630.12 1014.17 610.28 1014.8 604.25C1015.42 598.21 1015.84 597.86 1016.55 596.48C1017.26 595.1 1018.22 601.14 1019.05 595.97C1019.88 590.79 1020.63 574.83 1021.55 565.43C1022.47 556.03 1023.72 537.4 1024.55 539.56C1025.38 541.71 1025.88 563.28 1026.55 578.37C1027.22 593.46 1028.05 619.9 1028.55 630.12C1029.05 640.34 1029.05 641.42 1029.55 639.69C1030.05 637.97 1030.8 632.15 1031.55 619.77C1032.3 607.39 1033.22 578.8 1034.05 565.43C1034.88 552.06 1035.72 543.35 1036.55 539.56C1037.38 535.76 1038.22 546.98 1039.05 542.66C1039.88 538.35 1040.72 522.83 1041.55 513.68C1042.38 504.54 1043.3 492.85 1044.05 487.81C1044.8 482.76 1045.3 481.25 1046.05 483.41C1046.8 485.57 1047.84 491.39 1048.55 500.75C1049.26 510.1 1049.72 524.46 1050.3 539.56C1050.88 554.65 1051.42 576.43 1052.05 591.31C1052.67 606.19 1053.22 621.93 1054.05 628.83C1054.88 635.73 1056.13 631.07 1057.05 632.71C1057.97 634.35 1058.8 641.25 1059.55 638.66C1060.3 636.07 1060.8 625.94 1061.55 617.18C1062.3 608.43 1063.13 592.39 1064.05 586.13C1064.97 579.88 1066.13 579.66 1067.05 579.66C1067.97 579.66 1068.8 581.17 1069.55 586.13C1070.3 591.09 1070.8 601.23 1071.55 609.42C1072.3 617.61 1073.3 629.04 1074.05 635.3C1074.8 641.55 1075.3 649.96 1076.05 646.94C1076.8 643.92 1077.84 623.44 1078.55 617.18C1079.26 610.93 1079.59 610.71 1080.3 609.42C1081.01 608.13 1082.17 612.01 1082.8 609.42C1083.42 606.83 1083.63 598.64 1084.05 593.9C1084.47 589.15 1084.8 580.53 1085.3 580.96C1085.8 581.39 1086.51 593.03 1087.05 596.48C1087.59 599.93 1088.09 606.83 1088.55 601.66C1089.01 596.48 1089.3 577.94 1089.8 565.43C1090.3 552.93 1091.05 535.16 1091.55 526.62C1092.05 518.08 1092.3 514.2 1092.8 514.2C1093.3 514.2 1094.05 523.47 1094.55 526.62C1095.05 529.77 1095.26 534.38 1095.8 533.09C1096.34 531.8 1097.17 524.25 1097.8 518.86C1098.42 513.47 1098.92 503.98 1099.55 500.75C1100.17 497.51 1100.92 501.39 1101.55 499.45C1102.17 497.51 1102.76 489.96 1103.3 489.1C1103.84 488.24 1104.26 491.69 1104.8 494.28C1105.34 496.86 1105.92 501.18 1106.55 504.63C1107.17 508.08 1108.22 513.25 1108.55 514.98" stroke="#f5a524" stroke-width="1.7" fill="none" opacity="0.92" stroke-linejoin="round"/>
<path d="M87.15 514.19L88.75 481.75L89.95 489.69M104.65 553.5L106.25 503L107.45 534.95M113.4 546.64L115 494.25L116.2 513.94M108.4 554.9L110 610.5L111.2 581M132.15 584.8L133.75 556.75L134.95 567.07M153.4 617.2L155 574.25L156.2 590.8M162.65 550.69L164.25 489.25L165.45 507.62M170.9 501.2L172.5 485.5L173.7 504.6M178.4 590.46L180 650.5L181.2 626.58M199.65 593.94L201.25 628L202.45 594.65M230.4 626.15L232 599.25L233.2 608.25M233.9 606.19L235.5 629.25L236.7 619.02M297.9 589.41L299.5 484.25L300.7 518.7M293.9 597L295.5 648L296.7 621.33M288.4 608.2L290 574.25L291.2 580.67M237.9 610.36L239.5 588L240.7 596M276.65 533.75L278.25 555.5L279.45 543.55M332.15 508.37L333.75 483L334.95 491.98M249.65 518.7L251.25 494.25L252.45 515.55M121.4 555.29L123 545.5L124.2 571M117.15 523.83L118.75 573L119.95 547.7M33.4 523.41L35 493L36.2 502.65M46.4 584.2L48 585.5L49.2 594.7M52.15 604.35L53.75 620.5L54.95 610.85M78.4 622.85L80 640.5L81.2 628.75M125.9 596.5L127.5 636.75L128.7 619.92M142.15 641.6L143.75 653L144.95 642.86M157.15 585.1L158.75 601.75L159.95 592.8M265.9 630.1L267.5 639.25L268.7 624.83M284.65 571.5L286.25 621.75L287.45 607.5M308.9 616.53L310.5 644.25L311.7 635.43M239.65 597.75L241.25 603L242.45 593.08M273.4 551.8L275 523L276.2 531.5M318.4 584.78L320 578L321.2 583.43M358.9 512.83L360.5 483L361.7 491.75M364.15 503.27L365.75 524.25L366.95 516M397.4 587.67L399 546.75L400.2 566.96M436.65 534.8L438.25 501.75L439.45 522.25M446.65 501.81L448.25 492.5L449.45 499.65M467.4 523.69L469 509.25L470.2 533.97M481.65 580.4L483.25 558L484.45 571.3M386.65 620.92L388.25 613L389.45 626.35M504.65 556.1L506.25 533L507.45 540.93M535.9 539.3L537.5 495.5L538.7 505.7M543.4 500.88L545 485.5L546.2 493.99M554.9 555.29L556.5 508L557.7 539.28M551.65 571L553.25 609.25L554.45 565.57M559.9 576.32L561.5 623L562.7 600.93M525.9 630.38L527.5 605.5L528.7 612.07M600.4 513.33L602 490.5L603.2 500.15M624.65 522.5L626.25 490.5L627.45 502.51M634.15 587.02L635.75 538L636.95 553.5M630.4 547.3L632 608L633.2 588.88M498.4 610.71L500 645.5L501.2 617.8M400.15 566.75L401.75 580.5L402.95 544.9M650.9 575.5L652.5 639.25L653.7 629.08M345.15 568.72L346.75 626.75L347.95 614.3M424.65 596L426.25 643L427.45 634.72M439.65 524L441.25 545.5L442.45 541.6M485.9 580.72L487.5 599.25L488.7 589M493.4 593.1L495 611.75L496.2 605.44M529.65 615.08L531.25 629.25L532.45 600.36M610.15 563L611.75 630.5L612.95 618.43M641.65 561.5L643.25 548L644.45 550.5M353.4 562.23L355 540.5L356.2 539.7M457.65 572.6L459.25 550.5L460.45 553.54M664.65 577.15L666.25 536.75L667.45 551.82M654.65 621.92L656.25 598L657.45 605.43M651.4 587.33L653 638L654.2 625.83M659.65 623.84L661.25 651.75L662.45 623.81M672.9 601L674.5 626.75L675.7 596.2M676.65 582.9L678.25 548L679.45 557.91M680.4 561.61L682 581.75L683.2 559.5M703.9 601.72L705.5 588L706.7 592.5M734.15 550.64L735.75 510.5L736.95 538.2M727.65 568.55L729.25 624.25L730.45 609.85M740.9 622.65L742.5 650.5L743.7 610.89M765.9 595.22L767.5 576.75L768.7 582M773.4 600.86L775 636.75L776.2 615.57M787.15 528.25L788.75 495.5L789.95 509.75M803.4 521.45L805 489.25L806.2 504.31M792.9 555.8L794.5 605.5L795.7 597.4M824.65 525.63L826.25 490.5L827.45 504.62M830.4 501.55L832 490.5L833.2 504.7M837.65 534.27L839.25 496.75L840.45 512.12M834.65 513.4L836.25 541.75L837.45 532.85M852.15 542.62L853.75 518L854.95 533.66M850.4 537L852 549.25L853.2 539.26M869.65 577.29L871.25 514.25L872.45 531.64M876.4 563.73L878 524.25L879.2 551.2M888.9 543L890.5 501.75L891.7 520.7M882.65 597.75L884.25 638L885.45 626.28M903.9 525.25L905.5 484.25L906.7 503.63M900.4 544.22L902 558L903.2 536.62M914.65 563.8L916.25 550.5L917.45 567.59M928.9 561.31L930.5 525.5L931.7 539.62M919.65 595.6L921.25 634.25L922.45 624.3M812.15 573.5L813.75 613L814.95 606.34M758.4 594.12L760 613L761.2 607.81M708.4 602.75L710 621.75L711.2 626.33M863.4 643.16L865 649.25L866.2 643.49M909.15 535.43L910.75 578L911.95 569.97M893.4 530.9L895 545.5L896.2 539.13M955.4 512.1L957 487.5L958.2 499.21M983.4 506.5L985 482.5L986.2 491.97M994.65 523.79L996.25 482.5L997.45 502.39M990.4 542.31L992 565.5L993.2 545.21M1022.9 562.17L1024.5 526.75L1025.7 544.25M1007.15 625.86L1008.75 579.25L1009.95 597M1015.4 607.81L1017 583L1018.2 595.36M1010.9 595.14L1012.5 644.25L1013.7 630M1027.9 588L1029.5 643L1030.7 635.32M1037.9 540.98L1039.5 550.5L1040.7 535.66M1065.4 584.67L1067 573L1068.2 579.75M1084.15 603.2L1085.75 566.75L1086.95 586.5M1087.15 588.21L1088.75 624.25L1089.95 587.9M1078.4 628.15L1080 599.25L1081.2 608.21M1074.65 629.5L1076.25 651.75L1077.45 639.07M1090.9 562.29L1092.5 504.25L1093.7 516.48M1098.4 522.91L1100 495.5L1101.2 502.56M1100.9 502.75L1102.5 490.5L1103.7 494.89M1105.4 495.58L1107 519.25L1108.2 510.25M947.9 628.14L949.5 651.75L950.7 635.5M944.65 627.03L946.25 615.5L947.45 625.57M1057.9 630.38L1059.5 641.75L1060.7 634.17M944.65 627.03L946.25 615.5L947.45 625.57M948.4 631L950 651.75L951.2 623" stroke="#f5a524" stroke-width="1.3" fill="#f5a524" stroke-linejoin="round"/>
<path d="M30 560.5C30.92 550.5 34.04 508.83 35.5 500.5C36.96 492.17 37.79 508.42 38.75 510.5C39.71 512.58 40.21 502.58 41.25 513C42.29 523.42 43.96 559.67 45 573C46.04 586.33 46.67 589.25 47.5 593C48.33 596.75 48.88 592.17 50 595.5C51.12 598.83 53 611.75 54.25 613C55.5 614.25 56.33 617.17 57.5 603C58.67 588.83 59.79 545.83 61.25 528C62.71 510.17 64.79 498.08 66.25 496C67.71 493.92 68.75 501.83 70 515.5C71.25 529.17 72.5 560.92 73.75 578C75 595.08 76.33 608.42 77.5 618C78.67 627.58 79.71 640.08 80.75 635.5C81.79 630.92 82.71 610.5 83.75 590.5C84.79 570.5 85.96 532.38 87 515.5C88.04 498.62 89.08 491.54 90 489.25C90.92 486.96 91.58 498.83 92.5 501.75C93.42 504.67 94.46 502.38 95.5 506.75C96.54 511.12 97.79 519.04 98.75 528C99.71 536.96 100.5 552.58 101.25 560.5C102 568.42 102.62 577.58 103.25 575.5C103.88 573.42 104.38 556.33 105 548C105.62 539.67 106.25 520.5 107 525.5C107.75 530.5 108.88 567.58 109.5 578C110.12 588.42 110.17 592.17 110.75 588C111.33 583.83 112.17 566.12 113 553C113.83 539.88 114.79 511.33 115.75 509.25C116.71 507.17 117.83 532.79 118.75 540.5C119.67 548.21 120.54 553.42 121.25 555.5C121.96 557.58 122.38 548.42 123 553C123.62 557.58 124.17 570.5 125 583C125.83 595.5 126.96 626.75 128 628C129.04 629.25 130.08 600.71 131.25 590.5C132.42 580.29 133.88 565.5 135 566.75C136.12 568 136.96 586.12 138 598C139.04 609.88 140.29 629.67 141.25 638C142.21 646.33 143.04 647.58 143.75 648C144.46 648.42 144.88 640.71 145.5 640.5C146.12 640.29 146.75 645.92 147.5 646.75C148.25 647.58 149.17 648.62 150 645.5C150.83 642.38 151.67 635.92 152.5 628C153.33 620.08 154.17 605.5 155 598C155.83 590.5 156.67 583.83 157.5 583C158.33 582.17 159.17 598 160 593C160.83 588 161.54 568 162.5 553C163.46 538 164.71 510.92 165.75 503C166.79 495.08 167.83 505.92 168.75 505.5C169.67 505.08 170.54 502.17 171.25 500.5C171.96 498.83 172.29 490.92 173 495.5C173.71 500.08 174.54 510.92 175.5 528C176.46 545.08 177.71 580.5 178.75 598C179.79 615.5 180.71 636.33 181.75 633C182.79 629.67 183.96 599.67 185 578C186.04 556.33 187.25 517.38 188 503C188.75 488.62 188.75 487.58 189.5 491.75C190.25 495.92 191.5 516.96 192.5 528C193.5 539.04 194.58 550.5 195.5 558C196.42 565.5 197.04 563.62 198 573C198.96 582.38 200.08 617.58 201.25 614.25C202.42 610.92 203.75 573.21 205 553C206.25 532.79 207.71 504.25 208.75 493C209.79 481.75 210 486.12 211.25 485.5C212.5 484.88 215 486.33 216.25 489.25C217.5 492.17 217.92 490.29 218.75 503C219.58 515.71 220.21 543.83 221.25 565.5C222.29 587.17 223.83 619.46 225 633C226.17 646.54 227.21 649.25 228.25 646.75C229.29 644.25 230.33 624.88 231.25 618C232.17 611.12 232.83 605.29 233.75 605.5C234.67 605.71 235.79 620.5 236.75 619.25C237.71 618 238.54 602.38 239.5 598C240.46 593.62 241.58 600.5 242.5 593C243.42 585.5 243.96 565.08 245 553C246.04 540.92 247.92 526.33 248.75 520.5C249.58 514.67 249.38 518.83 250 518C250.62 517.17 251.67 519.25 252.5 515.5C253.33 511.75 254.38 497.58 255 495.5C255.62 493.42 255.62 493.42 256.25 503C256.88 512.58 257.92 535.5 258.75 553C259.58 570.5 260.54 595.71 261.25 608C261.96 620.29 262.17 623 263 626.75C263.83 630.5 265.42 629.25 266.25 630.5C267.08 631.75 267.17 640.92 268 634.25C268.83 627.58 270.29 605.29 271.25 590.5C272.21 575.71 273 555.71 273.75 545.5C274.5 535.29 274.92 529.46 275.75 529.25C276.58 529.04 277.83 542.17 278.75 544.25C279.67 546.33 280.42 539.46 281.25 541.75C282.08 544.04 282.92 549.04 283.75 558C284.58 566.96 285.54 586.33 286.25 595.5C286.96 604.67 287.29 615.08 288 613C288.71 610.92 289.83 588.83 290.5 583C291.17 577.17 291.33 574.67 292 578C292.67 581.33 293.71 595.71 294.5 603C295.29 610.29 296.04 628 296.75 621.75C297.46 615.5 298 584.88 298.75 565.5C299.5 546.12 300.42 507.58 301.25 505.5C302.08 503.42 302.71 536.75 303.75 553C304.79 569.25 306.25 588.62 307.5 603C308.75 617.38 310.21 636.75 311.25 639.25C312.29 641.75 312.92 626.54 313.75 618C314.58 609.46 315.42 593.62 316.25 588C317.08 582.38 317.71 585.08 318.75 584.25C319.79 583.42 321.38 583.42 322.5 583C323.62 582.58 324.46 585.5 325.5 581.75C326.54 578 327.58 573.62 328.75 560.5C329.92 547.38 331.46 514.46 332.5 503C333.54 491.54 334.08 492.38 335 491.75C335.92 491.12 337.08 497.38 338 499.25C338.92 501.12 339.75 500.29 340.5 503C341.25 505.71 341.75 505.08 342.5 515.5C343.25 525.92 344.17 548.21 345 565.5C345.83 582.79 346.46 617.17 347.5 619.25C348.54 621.33 350 589.46 351.25 578C352.5 566.54 353.96 558.83 355 550.5C356.04 542.17 356.58 537.17 357.5 528C358.42 518.83 359.67 501.96 360.5 495.5C361.33 489.04 361.75 486.75 362.5 489.25C363.25 491.75 364.33 505.5 365 510.5C365.67 515.5 365.88 520.5 366.5 519.25C367.12 518 368.12 506.96 368.75 503C369.38 499.04 369.62 491.33 370.25 495.5C370.88 499.67 371.71 512.17 372.5 528C373.29 543.83 374.17 573.83 375 590.5C375.83 607.17 376.67 619.88 377.5 628C378.33 636.12 379.17 638.83 380 639.25C380.83 639.67 381.67 633.42 382.5 630.5C383.33 627.58 384.17 623.42 385 621.75C385.83 620.08 386.67 619.46 387.5 620.5C388.33 621.54 389.25 623.42 390 628C390.75 632.58 391.38 643.83 392 648C392.62 652.17 393.04 660.5 393.75 653C394.46 645.5 395.33 618 396.25 603C397.17 588 398.5 568.62 399.25 563C400 557.38 400.21 570.92 400.75 569.25C401.29 567.58 401.79 563.21 402.5 553C403.21 542.79 404.17 518.83 405 508C405.83 497.17 406.25 492.08 407.5 488C408.75 483.92 411.04 483.71 412.5 483.5C413.96 483.29 415.08 485.17 416.25 486.75C417.42 488.33 418.67 488.21 419.5 493C420.33 497.79 420.54 501.33 421.25 515.5C421.96 529.67 422.92 559.25 423.75 578C424.58 596.75 425.62 618.5 426.25 628C426.88 637.5 426.88 639.17 427.5 635C428.12 630.83 429.17 614.58 430 603C430.83 591.42 431.67 574.67 432.5 565.5C433.33 556.33 434.17 554.25 435 548C435.83 541.75 436.79 532.58 437.5 528C438.21 523.42 438.62 518.83 439.25 520.5C439.88 522.17 440.71 534.46 441.25 538C441.79 541.54 441.88 546.75 442.5 541.75C443.12 536.75 444.08 515.5 445 508C445.92 500.5 447.08 497.79 448 496.75C448.92 495.71 449.75 494.46 450.5 501.75C451.25 509.04 451.83 529.04 452.5 540.5C453.17 551.96 454 564.88 454.5 570.5C455 576.12 454.79 574.04 455.5 574.25C456.21 574.46 457.92 575.29 458.75 571.75C459.58 568.21 459.67 557.58 460.5 553C461.33 548.42 462.79 548.42 463.75 544.25C464.71 540.08 465.33 532.58 466.25 528C467.17 523.42 468.42 512.58 469.25 516.75C470.08 520.92 470.5 536.54 471.25 553C472 569.46 472.92 599.46 473.75 615.5C474.58 631.54 475.42 648.83 476.25 649.25C477.08 649.67 477.92 629.04 478.75 618C479.58 606.96 480.42 591.54 481.25 583C482.08 574.46 482.92 566.75 483.75 566.75C484.58 566.75 485.5 579.04 486.25 583C487 586.96 487.42 590.92 488.25 590.5C489.08 590.08 490.46 580.5 491.25 580.5C492.04 580.5 492.29 586.12 493 590.5C493.71 594.88 494.75 604.67 495.5 606.75C496.25 608.83 496.88 601.12 497.5 603C498.12 604.88 498.75 613.08 499.25 618C499.75 622.92 499.96 637.08 500.5 632.5C501.04 627.92 501.75 604.17 502.5 590.5C503.25 576.83 504.29 558.5 505 550.5C505.71 542.5 506.12 544.58 506.75 542.5C507.38 540.42 508 543.33 508.75 538C509.5 532.67 510.54 516.12 511.25 510.5C511.96 504.88 512.38 499.25 513 504.25C513.62 509.25 514.25 524.04 515 540.5C515.75 556.96 516.58 586.33 517.5 603C518.42 619.67 519.46 633.5 520.5 640.5C521.54 647.5 522.79 647.08 523.75 645C524.71 642.92 525.42 633.54 526.25 628C527.08 622.46 527.92 612.92 528.75 611.75C529.58 610.58 530.42 626.62 531.25 621C532.08 615.38 532.71 596.42 533.75 578C534.79 559.58 536.46 523.42 537.5 510.5C538.54 497.58 539.17 501.54 540 500.5C540.83 499.46 541.75 504.88 542.5 504.25C543.25 503.62 543.83 498.54 544.5 496.75C545.17 494.96 545.79 490.38 546.5 493.5C547.21 496.62 547.96 503.5 548.75 515.5C549.54 527.5 550.5 552.58 551.25 565.5C552 578.42 552.62 595.08 553.25 593C553.88 590.92 554.38 563.92 555 553C555.62 542.08 556.17 523.33 557 527.5C557.83 531.67 559.08 565 560 578C560.92 591 561.79 607.58 562.5 605.5C563.21 603.42 563.54 576.33 564.25 565.5C564.96 554.67 565.79 545.5 566.75 540.5C567.71 535.5 569.04 540.5 570 535.5C570.96 530.5 571.58 518.42 572.5 510.5C573.42 502.58 574.58 492.17 575.5 488C576.42 483.83 576.92 484.25 578 485.5C579.08 486.75 581.04 490.5 582 495.5C582.96 500.5 583.04 497.58 583.75 515.5C584.46 533.42 585.42 580.29 586.25 603C587.08 625.71 587.71 647.58 588.75 651.75C589.79 655.92 591.25 642.38 592.5 628C593.75 613.62 595 584.25 596.25 565.5C597.5 546.75 598.88 526.54 600 515.5C601.12 504.46 602.08 500.08 603 499.25C603.92 498.42 604.54 505.71 605.5 510.5C606.46 515.29 607.79 514.67 608.75 528C609.71 541.33 610.54 575.29 611.25 590.5C611.96 605.71 612.17 611.33 613 619.25C613.83 627.17 615.38 633.21 616.25 638C617.12 642.79 617.42 655.92 618.25 648C619.08 640.08 620.12 612.58 621.25 590.5C622.38 568.42 623.96 530.21 625 515.5C626.04 500.79 626.67 498.08 627.5 502.25C628.33 506.42 629.17 527.04 630 540.5C630.83 553.96 631.88 574.17 632.5 583C633.12 591.83 633.12 598.5 633.75 593.5C634.38 588.5 635.54 559.54 636.25 553C636.96 546.46 637.46 551 638 554.25C638.54 557.5 638.96 571.04 639.5 572.5C640.04 573.96 640.62 565.83 641.25 563C641.88 560.17 642.42 558.83 643.25 555.5C644.08 552.17 645.42 546.33 646.25 543C647.08 539.67 647.62 533.83 648.25 535.5C648.88 537.17 649.54 545.92 650 553C650.46 560.08 650.58 568 651 578C651.42 588 652.04 604.38 652.5 613C652.96 621.62 653.12 630.58 653.75 629.75C654.38 628.92 655.54 612.25 656.25 608C656.96 603.75 657.38 600.92 658 604.25C658.62 607.58 659.38 621.75 660 628C660.62 634.25 661.12 648 661.75 641.75C662.38 635.5 662.92 606.46 663.75 590.5C664.58 574.54 665.71 548.92 666.75 546C667.79 543.08 669.04 564.33 670 573C670.96 581.67 671.75 591.33 672.5 598C673.25 604.67 673.75 616.33 674.5 613C675.25 609.67 676.17 587.25 677 578C677.83 568.75 678.79 559.58 679.5 557.5C680.21 555.42 680.75 563.12 681.25 565.5C681.75 567.88 681.88 578 682.5 571.75C683.12 565.5 684.08 540.29 685 528C685.92 515.71 686.96 505.08 688 498C689.04 490.92 690.29 487.58 691.25 485.5C692.21 483.42 692.92 480.5 693.75 485.5C694.58 490.5 695.42 502.17 696.25 515.5C697.08 528.83 697.92 552.17 698.75 565.5C699.58 578.83 700.5 589.04 701.25 595.5C702 601.96 702.54 604.25 703.25 604.25C703.96 604.25 704.88 597.58 705.5 595.5C706.12 593.42 706.46 590.08 707 591.75C707.54 593.42 708.04 599.67 708.75 605.5C709.46 611.33 710.42 631.33 711.25 626.75C712.08 622.17 712.92 596.54 713.75 578C714.58 559.46 715.42 528.5 716.25 515.5C717.08 502.5 717.92 503.33 718.75 500C719.58 496.67 720.5 496.88 721.25 495.5C722 494.12 722.54 489.25 723.25 491.75C723.96 494.25 724.71 496.12 725.5 510.5C726.29 524.88 727.17 561.33 728 578C728.83 594.67 729.67 612.58 730.5 610.5C731.33 608.42 732.04 580 733 565.5C733.96 551 735.38 523.5 736.25 523.5C737.12 523.5 737.54 549.75 738.25 565.5C738.96 581.25 739.79 605.38 740.5 618C741.21 630.62 741.75 647.92 742.5 641.25C743.25 634.58 744.17 597.71 745 578C745.83 558.29 746.67 534.38 747.5 523C748.33 511.62 749.08 508.92 750 509.75C750.92 510.58 751.96 516.62 753 528C754.04 539.38 755.21 565.92 756.25 578C757.29 590.08 758.42 595.5 759.25 600.5C760.08 605.5 760.5 608 761.25 608C762 608 763 602.5 763.75 600.5C764.5 598.5 765 598.92 765.75 596C766.5 593.08 767.46 586 768.25 583C769.04 580 769.79 577.17 770.5 578C771.21 578.83 771.88 582.17 772.5 588C773.12 593.83 773.71 606.96 774.25 613C774.79 619.04 775.21 628 775.75 624.25C776.29 620.5 776.92 602.38 777.5 590.5C778.08 578.62 778.75 560.58 779.25 553C779.75 545.42 779.88 545 780.5 545C781.12 545 782.25 550.42 783 553C783.75 555.58 784.25 565.5 785 560.5C785.75 555.5 786.75 532.58 787.5 523C788.25 513.42 788.75 500.08 789.5 503C790.25 505.92 791.17 527.17 792 540.5C792.83 553.83 793.88 573.42 794.5 583C795.12 592.58 795.25 597.17 795.75 598C796.25 598.83 797 590.21 797.5 588C798 585.79 798.12 589.75 798.75 584.75C799.38 579.75 800.42 569.54 801.25 558C802.08 546.46 803.04 524.67 803.75 515.5C804.46 506.33 804.88 504.46 805.5 503C806.12 501.54 806.92 505.5 807.5 506.75C808.08 508 808.5 504.88 809 510.5C809.5 516.12 809.83 527.17 810.5 540.5C811.17 553.83 812.25 579.46 813 590.5C813.75 601.54 814.25 609.67 815 606.75C815.75 603.83 816.58 582.71 817.5 573C818.42 563.29 819.58 554.33 820.5 548.5C821.42 542.67 822.25 542.25 823 538C823.75 533.75 824.25 528.62 825 523C825.75 517.38 826.67 507.79 827.5 504.25C828.33 500.71 829.17 502.38 830 501.75C830.83 501.12 831.67 498.21 832.5 500.5C833.33 502.79 834.08 509.46 835 515.5C835.92 521.54 837.17 536.75 838 536.75C838.83 536.75 839.42 520.92 840 515.5C840.58 510.08 840.88 504.25 841.5 504.25C842.12 504.25 842.88 512.71 843.75 515.5C844.62 518.29 845.83 519.33 846.75 521C847.67 522.67 848.5 521.42 849.25 525.5C850 529.58 850.29 544.17 851.25 545.5C852.21 546.83 854.04 528.08 855 533.5C855.96 538.92 856.25 562.25 857 578C857.75 593.75 858.67 617.17 859.5 628C860.33 638.83 860.88 640.42 862 643C863.12 645.58 865.12 650.17 866.25 643.5C867.38 636.83 868.04 618.08 868.75 603C869.46 587.92 869.96 566.12 870.5 553C871.04 539.88 871.46 524.25 872 524.25C872.54 524.25 873.17 544.96 873.75 553C874.33 561.04 874.88 572.5 875.5 572.5C876.12 572.5 877 557.83 877.5 553C878 548.17 878 541.42 878.5 543.5C879 545.58 879.75 555.58 880.5 565.5C881.25 575.42 882.17 592.79 883 603C883.83 613.21 884.75 630.92 885.5 626.75C886.25 622.58 886.83 594.46 887.5 578C888.17 561.54 888.88 538 889.5 528C890.12 518 890.54 517.17 891.25 518C891.96 518.83 892.92 529.46 893.75 533C894.58 536.54 895.21 537.5 896.25 539.25C897.29 541 898.96 542.04 900 543.5C901.04 544.96 901.75 552.67 902.5 548C903.25 543.33 903.83 523.29 904.5 515.5C905.17 507.71 905.79 499.17 906.5 501.25C907.21 503.33 908.08 518.12 908.75 528C909.42 537.88 910.04 553.33 910.5 560.5C910.96 567.67 910.75 570.58 911.5 571C912.25 571.42 914.08 564.46 915 563C915.92 561.54 916.38 558.92 917 562.25C917.62 565.58 918.04 573.71 918.75 583C919.46 592.29 920.5 610.42 921.25 618C922 625.58 922.42 631.83 923.25 628.5C924.08 625.17 925.21 610.58 926.25 598C927.29 585.42 928.46 563.54 929.5 553C930.54 542.46 931.58 530.58 932.5 534.75C933.42 538.92 934.17 564.12 935 578C935.83 591.88 936.67 609.46 937.5 618C938.33 626.54 939.08 626.54 940 629.25C940.92 631.96 942.17 634.88 943 634.25C943.83 633.62 944.33 627.38 945 625.5C945.67 623.62 946.38 621.75 947 623C947.62 624.25 948.17 630.08 948.75 633C949.33 635.92 949.88 647.58 950.5 640.5C951.12 633.42 951.75 611.33 952.5 590.5C953.25 569.67 954.17 531.54 955 515.5C955.83 499.46 956.58 494.25 957.5 494.25C958.42 494.25 959.46 497.38 960.5 515.5C961.54 533.62 962.79 581.67 963.75 603C964.71 624.33 965.12 636.62 966.25 643.5C967.38 650.38 969.25 648.5 970.5 644.25C971.75 640 972.58 629.88 973.75 618C974.92 606.12 976.25 588 977.5 573C978.75 558 980.21 539.67 981.25 528C982.29 516.33 982.92 509.04 983.75 503C984.58 496.96 985.42 489.67 986.25 491.75C987.08 493.83 988 506.12 988.75 515.5C989.5 524.88 990.21 541.33 990.75 548C991.29 554.67 991.5 556.75 992 555.5C992.5 554.25 993.17 548.42 993.75 540.5C994.33 532.58 994.88 514.38 995.5 508C996.12 501.62 996.83 494.75 997.5 502.25C998.17 509.75 998.75 532.04 999.5 553C1000.25 573.96 1001.17 611.54 1002 628C1002.83 644.46 1003.67 651.75 1004.5 651.75C1005.33 651.75 1006.29 636.12 1007 628C1007.71 619.88 1008.12 608.83 1008.75 603C1009.38 597.17 1010.12 590.5 1010.75 593C1011.38 595.5 1012 611.75 1012.5 618C1013 624.25 1013.21 633 1013.75 630.5C1014.29 628 1015.12 608.83 1015.75 603C1016.38 597.17 1016.79 596.83 1017.5 595.5C1018.21 594.17 1019.17 600 1020 595C1020.83 590 1021.58 574.58 1022.5 565.5C1023.42 556.42 1024.67 538.42 1025.5 540.5C1026.33 542.58 1026.83 563.42 1027.5 578C1028.17 592.58 1029 618.12 1029.5 628C1030 637.88 1030 638.92 1030.5 637.25C1031 635.58 1031.75 629.96 1032.5 618C1033.25 606.04 1034.17 578.42 1035 565.5C1035.83 552.58 1036.67 544.17 1037.5 540.5C1038.33 536.83 1039.17 547.67 1040 543.5C1040.83 539.33 1041.67 524.33 1042.5 515.5C1043.33 506.67 1044.25 495.38 1045 490.5C1045.75 485.62 1046.25 484.17 1047 486.25C1047.75 488.33 1048.79 493.96 1049.5 503C1050.21 512.04 1050.67 525.92 1051.25 540.5C1051.83 555.08 1052.38 576.12 1053 590.5C1053.62 604.88 1054.17 620.08 1055 626.75C1055.83 633.42 1057.08 628.92 1058 630.5C1058.92 632.08 1059.75 638.75 1060.5 636.25C1061.25 633.75 1061.75 623.96 1062.5 615.5C1063.25 607.04 1064.08 591.54 1065 585.5C1065.92 579.46 1067.08 579.25 1068 579.25C1068.92 579.25 1069.75 580.71 1070.5 585.5C1071.25 590.29 1071.75 600.08 1072.5 608C1073.25 615.92 1074.25 626.96 1075 633C1075.75 639.04 1076.25 647.17 1077 644.25C1077.75 641.33 1078.79 621.54 1079.5 615.5C1080.21 609.46 1080.54 609.25 1081.25 608C1081.96 606.75 1083.12 610.5 1083.75 608C1084.38 605.5 1084.58 597.58 1085 593C1085.42 588.42 1085.75 580.08 1086.25 580.5C1086.75 580.92 1087.46 592.17 1088 595.5C1088.54 598.83 1089.04 605.5 1089.5 600.5C1089.96 595.5 1090.25 577.58 1090.75 565.5C1091.25 553.42 1092 536.25 1092.5 528C1093 519.75 1093.25 516 1093.75 516C1094.25 516 1095 524.96 1095.5 528C1096 531.04 1096.21 535.5 1096.75 534.25C1097.29 533 1098.12 525.71 1098.75 520.5C1099.38 515.29 1099.88 506.12 1100.5 503C1101.12 499.88 1101.88 503.62 1102.5 501.75C1103.12 499.88 1103.71 492.58 1104.25 491.75C1104.79 490.92 1105.21 494.25 1105.75 496.75C1106.29 499.25 1106.88 503.42 1107.5 506.75C1108.12 510.08 1109.17 515.08 1109.5 516.75" stroke="#3d5bbf" stroke-width="1.7" fill="none" stroke-linejoin="round"/>
<circle cx="31.25" cy="558" r="3.5" fill="#ee1528"/><circle cx="36.25" cy="502.25" r="3.5" fill="#ee1528"/><circle cx="41.25" cy="513.5" r="3.5" fill="#ee1528"/><circle cx="66.25" cy="496.75" r="3.5" fill="#ee1528"/><circle cx="89.5" cy="488.5" r="3.5" fill="#ee1528"/><circle cx="94.5" cy="507.25" r="3.5" fill="#ee1528"/><circle cx="106.75" cy="524.25" r="3.5" fill="#ee1528"/><circle cx="115.75" cy="506.25" r="3.5" fill="#ee1528"/><circle cx="122.75" cy="556.5" r="3.5" fill="#ee1528"/><circle cx="135.25" cy="565.25" r="3.5" fill="#ee1528"/><circle cx="165.75" cy="500" r="3.5" fill="#ee1528"/><circle cx="173" cy="495.5" r="3.5" fill="#ee1528"/><circle cx="189.25" cy="491" r="3.5" fill="#ee1528"/><circle cx="211.25" cy="485.5" r="3.5" fill="#ee1528"/><circle cx="249.5" cy="518.5" r="3.5" fill="#ee1528"/><circle cx="255.25" cy="504" r="3.5" fill="#ee1528"/><circle cx="275.5" cy="528.25" r="3.5" fill="#ee1528"/><circle cx="281.25" cy="541.25" r="3.5" fill="#ee1528"/><circle cx="301.5" cy="504.75" r="3.5" fill="#ee1528"/><circle cx="335.25" cy="491" r="3.5" fill="#ee1528"/><circle cx="340" cy="503" r="3.5" fill="#ee1528"/><circle cx="355.5" cy="548.5" r="3.5" fill="#ee1528"/><circle cx="362.75" cy="489.25" r="3.5" fill="#ee1528"/><circle cx="370.25" cy="493.5" r="3.5" fill="#ee1528"/><circle cx="399.25" cy="562.25" r="3.5" fill="#ee1528"/><circle cx="412.25" cy="483" r="3.5" fill="#ee1528"/><circle cx="419.5" cy="493.5" r="3.5" fill="#ee1528"/><circle cx="439" cy="520" r="3.5" fill="#ee1528"/><circle cx="450.25" cy="502.25" r="3.5" fill="#ee1528"/><circle cx="463.75" cy="544.25" r="3.5" fill="#ee1528"/><circle cx="469.5" cy="517.25" r="3.5" fill="#ee1528"/><circle cx="506.5" cy="542.5" r="3.5" fill="#ee1528"/><circle cx="512.25" cy="504.25" r="3.5" fill="#ee1528"/><circle cx="539.5" cy="500.5" r="3.5" fill="#ee1528"/><circle cx="546.25" cy="493.5" r="3.5" fill="#ee1528"/><circle cx="556.75" cy="527.25" r="3.5" fill="#ee1528"/><circle cx="566.5" cy="540" r="3.5" fill="#ee1528"/><circle cx="577.75" cy="485.5" r="3.5" fill="#ee1528"/><circle cx="581.75" cy="495.75" r="3.5" fill="#ee1528"/><circle cx="602.75" cy="499.25" r="3.5" fill="#ee1528"/><circle cx="627" cy="502.25" r="3.5" fill="#ee1528"/><circle cx="636.75" cy="553.75" r="3.5" fill="#ee1528"/><circle cx="643.25" cy="555.5" r="3.5" fill="#ee1528"/><circle cx="648.25" cy="535.5" r="3.5" fill="#ee1528"/><circle cx="666.75" cy="546" r="3.5" fill="#ee1528"/><circle cx="679.75" cy="557.5" r="3.5" fill="#ee1528"/><circle cx="693.5" cy="490" r="3.5" fill="#ee1528"/><circle cx="719.25" cy="500" r="3.5" fill="#ee1528"/><circle cx="723.25" cy="491.75" r="3.5" fill="#ee1528"/><circle cx="736.25" cy="523.5" r="3.5" fill="#ee1528"/><circle cx="750" cy="509.5" r="3.5" fill="#ee1528"/><circle cx="780.5" cy="545" r="3.5" fill="#ee1528"/><circle cx="789.5" cy="503" r="3.5" fill="#ee1528"/><circle cx="805.5" cy="503" r="3.5" fill="#ee1528"/><circle cx="809" cy="510.5" r="3.5" fill="#ee1528"/><circle cx="820.25" cy="548.5" r="3.5" fill="#ee1528"/><circle cx="827.5" cy="504.25" r="3.5" fill="#ee1528"/><circle cx="832.5" cy="500.5" r="3.5" fill="#ee1528"/><circle cx="841.5" cy="504" r="3.5" fill="#ee1528"/><circle cx="846.75" cy="521" r="3.5" fill="#ee1528"/><circle cx="855" cy="533.75" r="3.5" fill="#ee1528"/><circle cx="872" cy="524.25" r="3.5" fill="#ee1528"/><circle cx="878.5" cy="543.5" r="3.5" fill="#ee1528"/><circle cx="891.25" cy="518.25" r="3.5" fill="#ee1528"/><circle cx="896.25" cy="539.25" r="3.5" fill="#ee1528"/><circle cx="900.25" cy="543.75" r="3.5" fill="#ee1528"/><circle cx="906.5" cy="501.5" r="3.5" fill="#ee1528"/><circle cx="917" cy="562" r="3.5" fill="#ee1528"/><circle cx="932.5" cy="534.75" r="3.5" fill="#ee1528"/><circle cx="957.5" cy="494.25" r="3.5" fill="#ee1528"/><circle cx="986" cy="491.75" r="3.5" fill="#ee1528"/><circle cx="997.5" cy="502.25" r="3.5" fill="#ee1528"/><circle cx="1025.5" cy="540" r="3.5" fill="#ee1528"/><circle cx="1037.75" cy="539.25" r="3.5" fill="#ee1528"/><circle cx="1046.75" cy="486.25" r="3.5" fill="#ee1528"/><circle cx="1093.5" cy="516" r="3.5" fill="#ee1528"/><circle cx="1100.5" cy="503" r="3.5" fill="#ee1528"/><circle cx="1105.75" cy="501.75" r="3.5" fill="#ee1528"/><circle cx="47" cy="594.25" r="3.5" fill="#43ab4b"/><circle cx="54.25" cy="616" r="3.5" fill="#43ab4b"/><circle cx="80" cy="637" r="3.5" fill="#43ab4b"/><circle cx="110.5" cy="588.5" r="3.5" fill="#43ab4b"/><circle cx="127.75" cy="630.5" r="3.5" fill="#43ab4b"/><circle cx="143.75" cy="648.5" r="3.5" fill="#43ab4b"/><circle cx="149.5" cy="647.25" r="3.5" fill="#43ab4b"/><circle cx="160" cy="594.25" r="3.5" fill="#43ab4b"/><circle cx="181.75" cy="633.25" r="3.5" fill="#43ab4b"/><circle cx="201.25" cy="615.5" r="3.5" fill="#43ab4b"/><circle cx="228.25" cy="646.25" r="3.5" fill="#43ab4b"/><circle cx="236.75" cy="620.5" r="3.5" fill="#43ab4b"/><circle cx="242.5" cy="594.25" r="3.5" fill="#43ab4b"/><circle cx="262.5" cy="627.5" r="3.5" fill="#43ab4b"/><circle cx="268" cy="634.75" r="3.5" fill="#43ab4b"/><circle cx="287.75" cy="613.75" r="3.5" fill="#43ab4b"/><circle cx="296.5" cy="622.5" r="3.5" fill="#43ab4b"/><circle cx="311.25" cy="639.75" r="3.5" fill="#43ab4b"/><circle cx="319.25" cy="584.75" r="3.5" fill="#43ab4b"/><circle cx="325" cy="582.25" r="3.5" fill="#43ab4b"/><circle cx="347.5" cy="619.5" r="3.5" fill="#43ab4b"/><circle cx="379.5" cy="639.25" r="3.5" fill="#43ab4b"/><circle cx="387" cy="621.25" r="3.5" fill="#43ab4b"/><circle cx="393.5" cy="652.25" r="3.5" fill="#43ab4b"/><circle cx="401.5" cy="569.75" r="3.5" fill="#43ab4b"/><circle cx="427.25" cy="635.25" r="3.5" fill="#43ab4b"/><circle cx="455" cy="574.25" r="3.5" fill="#43ab4b"/><circle cx="458" cy="572.25" r="3.5" fill="#43ab4b"/><circle cx="476.25" cy="649.25" r="3.5" fill="#43ab4b"/><circle cx="488" cy="591" r="3.5" fill="#43ab4b"/><circle cx="495.5" cy="606.5" r="3.5" fill="#43ab4b"/><circle cx="500.25" cy="632.25" r="3.5" fill="#43ab4b"/><circle cx="523.75" cy="645" r="3.5" fill="#43ab4b"/><circle cx="531" cy="621" r="3.5" fill="#43ab4b"/><circle cx="553.25" cy="593.25" r="3.5" fill="#43ab4b"/><circle cx="563.25" cy="605.75" r="3.5" fill="#43ab4b"/><circle cx="588.75" cy="651.75" r="3.5" fill="#43ab4b"/><circle cx="612.5" cy="619.25" r="3.5" fill="#43ab4b"/><circle cx="618.25" cy="647.75" r="3.5" fill="#43ab4b"/><circle cx="633.5" cy="593.5" r="3.5" fill="#43ab4b"/><circle cx="639.25" cy="572.5" r="3.5" fill="#43ab4b"/><circle cx="653.75" cy="629.75" r="3.5" fill="#43ab4b"/><circle cx="661.75" cy="641.5" r="3.5" fill="#43ab4b"/><circle cx="674.5" cy="613.25" r="3.5" fill="#43ab4b"/><circle cx="682.5" cy="572" r="3.5" fill="#43ab4b"/><circle cx="703" cy="604.25" r="3.5" fill="#43ab4b"/><circle cx="711.25" cy="626.75" r="3.5" fill="#43ab4b"/><circle cx="730.5" cy="610.5" r="3.5" fill="#43ab4b"/><circle cx="742.5" cy="641.25" r="3.5" fill="#43ab4b"/><circle cx="761.25" cy="608" r="3.5" fill="#43ab4b"/><circle cx="765.75" cy="596" r="3.5" fill="#43ab4b"/><circle cx="775.75" cy="624.25" r="3.5" fill="#43ab4b"/><circle cx="795.75" cy="597.75" r="3.5" fill="#43ab4b"/><circle cx="798.75" cy="584.75" r="3.5" fill="#43ab4b"/><circle cx="815" cy="606.75" r="3.5" fill="#43ab4b"/><circle cx="862" cy="643.5" r="3.5" fill="#43ab4b"/><circle cx="866.25" cy="643.5" r="3.5" fill="#43ab4b"/><circle cx="875.25" cy="572.5" r="3.5" fill="#43ab4b"/><circle cx="885.5" cy="626.75" r="3.5" fill="#43ab4b"/><circle cx="911.5" cy="571" r="3.5" fill="#43ab4b"/><circle cx="923.5" cy="628.25" r="3.5" fill="#43ab4b"/><circle cx="940" cy="629.25" r="3.5" fill="#43ab4b"/><circle cx="943" cy="634.25" r="3.5" fill="#43ab4b"/><circle cx="950.25" cy="640.5" r="3.5" fill="#43ab4b"/><circle cx="966.25" cy="643.5" r="3.5" fill="#43ab4b"/><circle cx="970.5" cy="644.25" r="3.5" fill="#43ab4b"/><circle cx="1004.5" cy="652.25" r="3.5" fill="#43ab4b"/><circle cx="1013.25" cy="630.5" r="3.5" fill="#43ab4b"/><circle cx="1020" cy="595" r="3.5" fill="#43ab4b"/><circle cx="1030.25" cy="637.25" r="3.5" fill="#43ab4b"/><circle cx="1060.25" cy="636.25" r="3.5" fill="#43ab4b"/><circle cx="1077" cy="644" r="3.5" fill="#43ab4b"/><circle cx="1083.75" cy="608" r="3.5" fill="#43ab4b"/><circle cx="1089.5" cy="600.75" r="3.5" fill="#43ab4b"/>
</g>
<line x1="30.5" y1="461.8" x2="1249.5" y2="461.8" stroke="#e3e5ea" stroke-width="1"/>
<g fill="none" stroke="#8a2da5" stroke-width="1.15"><circle cx="1109.7" cy="451.4" r="7.8"/><path d="M1111.9 447.4 L1106.8 452.3 L1109.5 452.3 L1107.5 455.6 L1112.7 450.7 L1110 450.7 Z" fill="#8a2da5" stroke-width="0.3"/></g>
<g fill="#1c1c1c"><path d="M31 702.3H37.2V709H34.2V705.3H31Z"/><circle cx="39.4" cy="703.9" r="1.55"/><path d="M42.6 702.3H46.4L43.4 709H39.7Z"/></g>
</svg>
<div id="nzd"></div>
<div id="hdr"><span style="width:203.6px">British Pound / New Zealand Dollar, 4h, FXCM</span><span style="width:47.3px">O<b>2.05388</b></span><span style="width:45.9px">H<b>2.05647</b></span><span style="width:44.6px">L<b>2.05183</b></span><span style="width:45px">C<b>2.05601</b></span><b>+0.00213 (+0.10%)</b></div>
<div class="ax" style="left:1202px;top:30.4px">NZD</div>
<div class="ax" style="left:1198.4px;top:65.2px;">2.11000</div>
<div class="ax" style="left:1198.4px;top:98.7px;">2.10000</div>
<div class="ax" style="left:1198.4px;top:132.1px;">2.09000</div>
<div class="ax" style="left:1198.4px;top:165.6px;">2.08000</div>
<div class="ax" style="left:1198.4px;top:199.0px;">2.07000</div>
<div class="ax" style="left:1198.4px;top:232.5px;">2.06000</div>
<div class="ax" style="left:1198.4px;top:265.9px;">2.05000</div>
<div class="ax" style="left:1198.4px;top:299.4px;">2.04000</div>
<div class="ax" style="left:1198.4px;top:332.8px;">2.03000</div>
<div class="ax" style="left:1198.4px;top:366.2px;">2.02000</div>
<div class="ax" style="left:1198.4px;top:399.7px;">2.01000</div>
<div class="ax" style="left:1198.4px;top:433.2px;">2.00000</div>
<div class="ax" style="left:1198.4px;top:477.6px;">100.00000</div>
<div class="ax" style="left:1198.4px;top:511.3px;">80.00000</div>
<div class="ax" style="left:1198.4px;top:544.9px;">60.00000</div>
<div class="ax" style="left:1198.4px;top:578.2px;">40.00000</div>
<div class="ax" style="left:1198.4px;top:611.9px;">20.00000</div>
<div class="ax" style="left:1198.4px;top:645.9px;">0.00000</div>
<div class="ax tc" style="left:62.0px;top:673.9px;">14</div>
<div class="ax tc" style="left:165.0px;top:673.9px;">Sep</div>
<div class="ax tc" style="left:246.6px;top:673.9px;">18</div>
<div class="ax tc" style="left:318.4px;top:673.9px;">Oct</div>
<div class="ax tc" style="left:393.9px;top:673.9px;">16</div>
<div class="ax tc" style="left:482.4px;top:673.9px;">Nov</div>
<div class="ax tc" style="left:578.6px;top:673.9px;">20</div>
<div class="ax tc" style="left:645.0px;top:673.9px;">Dec</div>
<div class="ax tc" style="left:711.4px;top:673.9px;">14</div>
<div class="ax tc" style="left:790.0px;top:673.9px;font-weight:bold;">2024</div>
<div class="ax tc" style="left:856.4px;top:673.9px;">15</div>
<div class="ax tc" style="left:952.0px;top:673.9px;">Feb</div>
<div class="ax tc" style="left:1041.0px;top:673.9px;">19</div>
<div class="ax tc" style="left:1107.0px;top:673.9px;">Mar</div>
<div class="bx" style="left:1191.9px;top:218.0px;width:45.0px;height:27.2px;background:#42a5de"></div>
<div class="bx" style="left:1191.9px;top:245.0px;width:45.0px;height:24.8px;background:#0d9a7e"></div>
<div class="bx" style="left:1191.9px;top:307.4px;width:45.0px;height:27.0px;background:#2962ff"></div>
<div class="bx" style="left:1191.9px;top:492.7px;width:49.8px;height:13.6px;background:#e8172c"></div>
<div class="bx" style="left:1191.9px;top:506.2px;width:49.8px;height:13.8px;background:#fb9a14"></div>
<div class="bx" style="left:1191.9px;top:520.0px;width:49.8px;height:13.2px;background:#2b63f0"></div>
<div class="bx" style="left:1191.9px;top:561.3px;width:49.8px;height:13.2px;background:#e0142a"></div>
<div class="bx" style="left:1191.9px;top:594.3px;width:49.8px;height:13.2px;background:#4caf50"></div>
<div class="ax" style="left:1198.4px;top:218.7px;color:#15233f">2.05647</div>
<div class="ax" style="left:1198.4px;top:232.7px;color:#15233f">2.05647</div>
<div class="ax bw" style="left:1197.6px;top:246.2px;">2.05601</div>
<div class="ax" style="left:1198.4px;top:257.7px;color:#c9eee4">34:47</div>
<div class="ax bw" style="left:1197.6px;top:308.4px;">2.03739</div>
<div class="ax bw" style="left:1197.6px;top:321.9px;">2.03739</div>
<div class="ax bw" style="left:1197.6px;top:493.7px;">89.42762</div>
<div class="ax" style="left:1198.4px;top:506.9px;color:#2a1a05">82.71886</div>
<div class="ax bw" style="left:1197.6px;top:520.5px;">79.69101</div>
<div class="ax bw" style="left:1197.6px;top:562.1px;">50.00000</div>
<div class="ax bw" style="left:1197.6px;top:595.2px;">30.35304</div>
<div id="tv">TradingView</div>
</body></html>
